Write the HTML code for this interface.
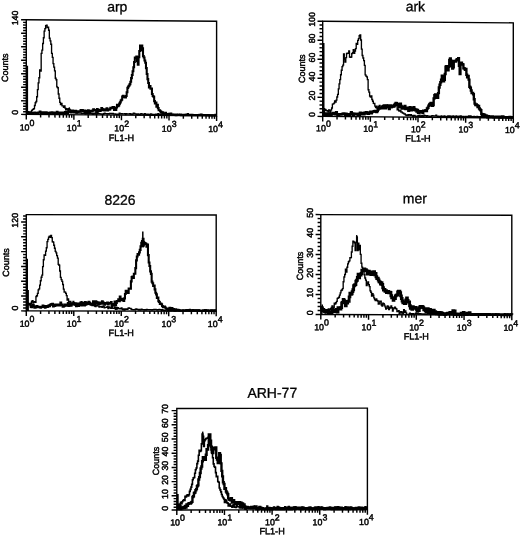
<!DOCTYPE html><html><head><meta charset="utf-8"><style>html,body{margin:0;padding:0;background:#fff;}svg{display:block;will-change:transform;}text{font-family:"Liberation Sans", sans-serif;fill:#000;stroke:#000;stroke-width:0.45px;} text.t{stroke-width:0.3px;}</style></head><body>
<svg width="520" height="536" viewBox="0 0 520 536">
<rect width="520" height="536" fill="#fff"/>
<g transform="translate(26.3 19.7) skewY(0.45) translate(-26.3 -19.7)">
<text class="t" x="117.3" y="10.8" font-size="14" text-anchor="middle">arp</text>
<rect x="26.3" y="19.7" width="190.3" height="94.7" fill="none" stroke="#000" stroke-width="1.4"/>
<path d="M21.1 114.4H26.3M23.1 111.69H26.3M23.1 108.99H26.3M23.1 106.28H26.3M23.1 103.58H26.3M21.1 100.87H26.3M23.1 98.17H26.3M23.1 95.46H26.3M23.1 92.75H26.3M23.1 90.05H26.3M21.1 87.34H26.3M23.1 84.64H26.3M23.1 81.93H26.3M23.1 79.23H26.3M23.1 76.52H26.3M21.1 73.81H26.3M23.1 71.11H26.3M23.1 68.4H26.3M23.1 65.7H26.3M23.1 62.99H26.3M21.1 60.29H26.3M23.1 57.58H26.3M23.1 54.87H26.3M23.1 52.17H26.3M23.1 49.46H26.3M21.1 46.76H26.3M23.1 44.05H26.3M23.1 41.35H26.3M23.1 38.64H26.3M23.1 35.93H26.3M21.1 33.23H26.3M23.1 30.52H26.3M23.1 27.82H26.3M23.1 25.11H26.3M23.1 22.41H26.3M21.1 19.7H26.3M26.3 114.4V119.4M40.62 114.4V117.4M49 114.4V117.4M54.94 114.4V117.4M59.55 114.4V117.4M63.32 114.4V117.4M66.51 114.4V117.4M69.26 114.4V117.4M71.7 114.4V117.4M73.88 114.4V119.4M88.2 114.4V117.4M96.57 114.4V117.4M102.52 114.4V117.4M107.13 114.4V117.4M110.9 114.4V117.4M114.08 114.4V117.4M116.84 114.4V117.4M119.27 114.4V117.4M121.45 114.4V119.4M135.77 114.4V117.4M144.15 114.4V117.4M150.09 114.4V117.4M154.7 114.4V117.4M158.47 114.4V117.4M161.66 114.4V117.4M164.41 114.4V117.4M166.85 114.4V117.4M169.03 114.4V119.4M183.35 114.4V117.4M191.72 114.4V117.4M197.67 114.4V117.4M202.28 114.4V117.4M206.05 114.4V117.4M209.23 114.4V117.4M211.99 114.4V117.4M214.42 114.4V117.4M216.6 114.4V119.4" stroke="#000" stroke-width="1.45" fill="none"/>
<text transform="translate(17.7 112.4) rotate(-90)" font-size="8.8" text-anchor="middle">0</text>
<text transform="translate(17.7 18) rotate(-90)" font-size="8.8" text-anchor="middle">140</text>
<text transform="translate(7.8 68) rotate(-90)" font-size="9" text-anchor="middle">Counts</text>
<text x="19.71" y="130.6" font-size="8.85">10<tspan dy="-4.7">0</tspan></text>
<text x="66.88" y="130.6" font-size="8.85">10<tspan dy="-4.7">1</tspan></text>
<text x="114.36" y="130.6" font-size="8.85">10<tspan dy="-4.7">2</tspan></text>
<text x="161.83" y="130.6" font-size="8.85">10<tspan dy="-4.7">3</tspan></text>
<text x="208.21" y="130.6" font-size="8.85">10<tspan dy="-4.7">4</tspan></text>
<text x="121.45" y="140.2" font-size="9.1" text-anchor="middle">FL1-H</text>
<path d="M27.3 65.7V114.4" stroke="#000" stroke-width="1.6"/>
</g>
<polyline points="28.4,113.51 28.53,113.51 28.53,113.83 29.27,113.83 29.27,113 30.02,113 30.02,111.92 30.76,111.92 30.76,111.95 31.5,111.95 31.5,110.67 32.25,110.67 32.25,109.59 32.99,109.59 32.99,109.24 33.73,109.24 33.73,108.59 34.48,108.59 34.48,105.47 35.22,105.47 35.22,102.7 35.96,102.7 35.96,101.52 36.71,101.52 36.71,96.73 37.45,96.73 37.45,89.57 38.19,89.57 38.19,82.83 38.94,82.83 38.94,77.73 39.68,77.73 39.68,70.04 40.42,70.04 40.42,71 41.17,71 41.17,53.32 41.91,53.32 41.91,50.14 42.65,50.14 42.65,43.52 43.4,43.52 43.4,37.7 44.14,37.7 44.14,31.15 44.88,31.15 44.88,28.66 45.63,28.66 45.63,25.66 46.37,25.66 46.37,25.05 47.11,25.05 47.11,27.51 47.86,27.51 47.86,27.2 48.6,27.2 48.6,30.21 49.34,30.21 49.34,38.22 50.09,38.22 50.09,40.88 50.83,40.88 50.83,44.28 51.57,44.28 51.57,53.32 52.32,53.32 52.32,57.31 53.06,57.31 53.06,63.68 53.8,63.68 53.8,67.07 54.55,67.07 54.55,70.86 55.29,70.86 55.29,78.29 56.03,78.29 56.03,79.73 56.78,79.73 56.78,86.88 57.52,86.88 57.52,87.71 58.26,87.71 58.26,93.95 59.01,93.95 59.01,98.23 59.75,98.23 59.75,102.3 60.49,102.3 60.49,104.64 61.24,104.64 61.24,103.3 61.98,103.3 61.98,105.83 62.72,105.83 62.72,105.8 63.47,105.8 63.47,107.25 64.21,107.25 64.21,105.92 64.95,105.92 64.95,108.11 65.7,108.11 65.7,109.7 66.44,109.7 66.44,108.77 67.18,108.77 67.18,109.51 67.93,109.51 67.93,111.56 68.67,111.56 68.67,108.77 69.41,108.77 69.41,109.5 70.16,109.5 70.16,110.19 70.9,110.19 70.9,110.99 71.64,110.99 71.64,111.61 72.39,111.61 72.39,110.55 73.13,110.55 73.13,111.77 73.88,111.77 73.88,110.61 74.62,110.61 74.62,111.94 75.36,111.94 75.36,112.62 76.11,112.62 76.11,112.77 76.85,112.77 76.85,112.99 77.59,112.99 77.59,112.95 78.34,112.95 78.34,113.13 79.08,113.13 79.08,113.05 79.82,113.05 79.82,112.86 80.57,112.86 80.57,112.8 81.31,112.8 81.31,113.63 82.05,113.63 82.05,113.62 82.8,113.62 82.8,113.44 83.54,113.44 83.54,113.27 84.28,113.27 84.28,113.29 85.03,113.29 85.03,114.19 85.77,114.19 85.77,112.73 86.51,112.73 86.51,113.79 87.26,113.79 87.26,112.77 88,112.77 88,114.04 88.74,114.04 88.74,113.92 89.49,113.92 89.49,113.69 90.23,113.69 90.23,113.69 90.97,113.69 90.97,113.91 91.72,113.91 91.72,113.35 92.46,113.35 92.46,114.31 93.2,114.31 93.2,113.25 93.95,113.25 93.95,113.96 94.69,113.96 94.69,113.19 95.43,113.19 95.43,113.82 96.18,113.82 96.18,114.2 96.92,114.2 96.92,113.52 97.66,113.52 97.66,112.87 98.41,112.87 98.41,113.72 99.15,113.72 99.15,113.67 99.89,113.67 99.89,113.87 100.64,113.87 100.64,114.05 101.38,114.05 101.38,114.02 102.12,114.02 102.12,114.23 102.87,114.23 102.87,114.27 103.61,114.27 103.61,113.74 104.35,113.74 104.35,113.18 105.1,113.18 105.1,113.59 105.84,113.59 105.84,113.62 106.58,113.62 106.58,113.71 107.33,113.71 107.33,114.12 108.07,114.12 108.07,113.75 108.81,113.75 108.81,113.98 109.56,113.98 109.56,113.5 110.3,113.5 110.3,113.4 111.04,113.4 111.04,113.4 111.79,113.4 111.79,113.73 112.53,113.73 112.53,113.49 113.27,113.49 113.27,114.12 114.02,114.12 114.02,113.92 114.76,113.92 114.76,113.97 115.5,113.97 115.5,114.23 116.25,114.23 116.25,114.28 116.99,114.28 116.99,114.24 117.73,114.24 117.73,114.1 118.48,114.1 118.48,114.63 119.22,114.63 119.22,113.22 119.96,113.22 119.96,113.89 120.71,113.89 120.71,113.95 121.45,113.95 121.45,113.76 122.19,113.76 122.19,114.04 122.94,114.04 122.94,113.82 123.68,113.82 123.68,113.83 124.42,113.83 124.42,113.75 125.17,113.75 125.17,114.68 125.91,114.68 125.91,113.66 126.65,113.66 126.65,113.98 127.4,113.98 127.4,113.83 128.14,113.83 128.14,113.89 128.88,113.89 128.88,113.97 129.63,113.97 129.63,113.57 130.37,113.57 130.37,114.21 131.11,114.21 131.11,113.91 131.86,113.91 131.86,114.2 132.6,114.2 132.6,114.11 133.34,114.11 133.34,113.28 134.09,113.28 134.09,113.51 134.83,113.51 134.83,114.03 135.57,114.03 135.57,113.83 136.32,113.83 136.32,114.23 137.06,114.23 137.06,114.77 137.8,114.77 137.8,113.99 138.55,113.99 138.55,114.28 139.29,114.28 139.29,114.61 140.03,114.61 140.03,114.8 140.78,114.8 140.78,113.72 141.52,113.72 141.52,114.03 142.26,114.03 142.26,114.05 143.01,114.05 143.01,114.49 143.75,114.49 143.75,114.24 144.49,114.24 144.49,113.79 145.24,113.79 145.24,114.46 145.98,114.46 145.98,114.19 146.72,114.19 146.72,114.62 147.47,114.62 147.47,114.22 148.21,114.22 148.21,114.66 148.95,114.66 148.95,114.47 149.7,114.47 149.7,114.43 150.44,114.43 150.44,114.02 151.18,114.02 151.18,114.19 151.93,114.19 151.93,114.56 152.67,114.56 152.67,114.4 153.41,114.4 153.41,114.37 154.16,114.37 154.16,114.38 154.9,114.38 154.9,114.68 155.64,114.68 155.64,114.12 156.39,114.12 156.39,114.31 157.13,114.31 157.13,114.35 157.87,114.35 157.87,113.58 158.62,113.58 158.62,114.58 159.36,114.58 159.36,114.21 160.1,114.21 160.1,114.94 160.85,114.94 160.85,113.82 161.59,113.82 161.59,114.76 162.33,114.76 162.33,114.8 163.08,114.8 163.08,114.54 163.82,114.54 163.82,114.8 164.56,114.8 164.56,114.9 165.31,114.9 165.31,114.25 166.05,114.25 166.05,114.29 166.79,114.29 166.79,114.51 167.54,114.51 167.54,114.64 168.28,114.64 168.28,114.32 169.03,114.32 169.03,114.75 169.77,114.75 169.77,114.79 170.51,114.79 170.51,114.26 171.26,114.26 171.26,114.86 172,114.86 172,114.86 172.74,114.86 172.74,114.41 173.49,114.41 173.49,114.69 174.23,114.69 174.23,114.92 174.97,114.92 174.97,114.66 175.72,114.66 175.72,114.7 176.46,114.7 176.46,114.86 177.2,114.86 177.2,114.55 177.95,114.55 177.95,114.43 178.69,114.43 178.69,114.33 179.43,114.33 179.43,115.07 180.18,115.07 180.18,114.64 180.92,114.64 180.92,114.66 181.66,114.66 181.66,115.12 182.41,115.12 182.41,114.97 183.15,114.97 183.15,114.7 183.89,114.7 183.89,115.14 184.64,115.14 184.64,114.6 185.38,114.6 185.38,114.32 186.12,114.32 186.12,115.15 186.87,115.15 186.87,114.29 187.61,114.29 187.61,113.64 188.35,113.64 188.35,114.86 189.1,114.86 189.1,114.87 189.84,114.87 189.84,114.93 190.58,114.93 190.58,115.19 191.33,115.19 191.33,115.19 192.07,115.19 192.07,114.54 192.81,114.54 192.81,114.91 193.56,114.91 193.56,114.63 194.3,114.63 194.3,114.84 195.04,114.84 195.04,114.87 195.79,114.87 195.79,114.69 196.53,114.69 196.53,115.2 197.27,115.2 197.27,114.75 198.02,114.75 198.02,114.79 198.76,114.79 198.76,115.26 199.5,115.26 199.5,115.26 200.25,115.26 200.25,115.07 200.99,115.07 200.99,114.09 201.73,114.09 201.73,114.44 202.48,114.44 202.48,114.58 203.22,114.58 203.22,115.04 203.96,115.04 203.96,114.88 204.71,114.88 204.71,115.01 205.45,115.01 205.45,114.64 206.19,114.64 206.19,114.82 206.94,114.82 206.94,115.32 207.68,115.32 207.68,114.75 208.42,114.75 208.42,114.73 209.17,114.73 209.17,115.17 209.91,115.17 209.91,115.25 210.65,115.25 210.65,114.86 211.4,114.86 211.4,115.21 212.14,115.21 212.14,114.96 212.88,114.96 212.88,115.05 213.63,115.05 213.63,115.23 214.37,115.23 214.37,115.38 215.11,115.38 215.11,114.43 215.86,114.43 215.86,115.32 216,115.32" fill="none" stroke="#000" stroke-width="1.35" stroke-linejoin="miter" stroke-miterlimit="2"/>
<polyline points="27.6,112.14 27.79,112.14 27.79,112.06 28.53,112.06 28.53,112.78 29.27,112.78 29.27,113.22 30.02,113.22 30.02,113.39 30.76,113.39 30.76,112.81 31.5,112.81 31.5,113.37 32.25,113.37 32.25,113.59 32.99,113.59 32.99,112.74 33.73,112.74 33.73,112.77 34.48,112.77 34.48,112.56 35.22,112.56 35.22,113.33 35.96,113.33 35.96,112.85 36.71,112.85 36.71,112.89 37.45,112.89 37.45,113.65 38.19,113.65 38.19,112.58 38.94,112.58 38.94,112.7 39.68,112.7 39.68,111.62 40.42,111.62 40.42,112.77 41.17,112.77 41.17,112.96 41.91,112.96 41.91,112.24 42.65,112.24 42.65,112.78 43.4,112.78 43.4,112.41 44.14,112.41 44.14,113.09 44.88,113.09 44.88,112.79 45.63,112.79 45.63,112.36 46.37,112.36 46.37,112.54 47.11,112.54 47.11,112.84 47.86,112.84 47.86,113.49 48.6,113.49 48.6,112.68 49.34,112.68 49.34,112.88 50.09,112.88 50.09,112.54 50.83,112.54 50.83,112.82 51.57,112.82 51.57,112.36 52.32,112.36 52.32,112.97 53.06,112.97 53.06,112.83 53.8,112.83 53.8,112.59 54.55,112.59 54.55,113.53 55.29,113.53 55.29,113.17 56.03,113.17 56.03,113.22 56.78,113.22 56.78,111.91 57.52,111.91 57.52,113.01 58.26,113.01 58.26,112.62 59.01,112.62 59.01,112.64 59.75,112.64 59.75,113.13 60.49,113.13 60.49,113.81 61.24,113.81 61.24,112.47 61.98,112.47 61.98,113.21 62.72,113.21 62.72,112.61 63.47,112.61 63.47,113.7 64.21,113.7 64.21,113.12 64.95,113.12 64.95,112.01 65.7,112.01 65.7,111.73 66.44,111.73 66.44,113.25 67.18,113.25 67.18,113.14 67.93,113.14 67.93,112.18 68.67,112.18 68.67,111.52 69.41,111.52 69.41,111.78 70.16,111.78 70.16,111.54 70.9,111.54 70.9,112.35 71.64,112.35 71.64,111.06 72.39,111.06 72.39,110.64 73.13,110.64 73.13,111.77 73.88,111.77 73.88,112.5 74.62,112.5 74.62,111.96 75.36,111.96 75.36,110.78 76.11,110.78 76.11,112.66 76.85,112.66 76.85,111.37 77.59,111.37 77.59,112.04 78.34,112.04 78.34,111.35 79.08,111.35 79.08,111.41 79.82,111.41 79.82,111.18 80.57,111.18 80.57,109.97 81.31,109.97 81.31,110.78 82.05,110.78 82.05,110.02 82.8,110.02 82.8,111.16 83.54,111.16 83.54,111.39 84.28,111.39 84.28,110.66 85.03,110.66 85.03,112.93 85.77,112.93 85.77,110.93 86.51,110.93 86.51,110.72 87.26,110.72 87.26,111.84 88,111.84 88,110.39 88.74,110.39 88.74,111.21 89.49,111.21 89.49,112.69 90.23,112.69 90.23,110.83 90.97,110.83 90.97,111.44 91.72,111.44 91.72,111.01 92.46,111.01 92.46,110.66 93.2,110.66 93.2,109.4 93.95,109.4 93.95,110.35 94.69,110.35 94.69,110.42 95.43,110.42 95.43,109.99 96.18,109.99 96.18,111.89 96.92,111.89 96.92,109.11 97.66,109.11 97.66,111.13 98.41,111.13 98.41,109.7 99.15,109.7 99.15,111.07 99.89,111.07 99.89,110.87 100.64,110.87 100.64,110.25 101.38,110.25 101.38,108.01 102.12,108.01 102.12,109.04 102.87,109.04 102.87,110.19 103.61,110.19 103.61,109.8 104.35,109.8 104.35,110.55 105.1,110.55 105.1,109.36 105.84,109.36 105.84,109.77 106.58,109.77 106.58,108.36 107.33,108.36 107.33,110.34 108.07,110.34 108.07,109.19 108.81,109.19 108.81,109.6 109.56,109.6 109.56,109.36 110.3,109.36 110.3,107.79 111.04,107.79 111.04,108.32 111.79,108.32 111.79,107.76 112.53,107.76 112.53,107.04 113.27,107.04 113.27,107.12 114.02,107.12 114.02,109.87 114.76,109.87 114.76,107.9 115.5,107.9 115.5,110.07 116.25,110.07 116.25,107.56 116.99,107.56 116.99,104.79 117.73,104.79 117.73,106.32 118.48,106.32 118.48,105.45 119.22,105.45 119.22,103.66 119.96,103.66 119.96,102.35 120.71,102.35 120.71,100.57 121.45,100.57 121.45,99.68 122.19,99.68 122.19,96.44 122.94,96.44 122.94,95.92 123.68,95.92 123.68,97.24 124.42,97.24 124.42,96.95 125.17,96.95 125.17,97.55 125.91,97.55 125.91,95.94 126.65,95.94 126.65,92.23 127.4,92.23 127.4,87.91 128.14,87.91 128.14,86.48 128.88,86.48 128.88,85.43 129.63,85.43 129.63,84.08 130.37,84.08 130.37,81.72 131.11,81.72 131.11,78.16 131.86,78.16 131.86,75.02 132.6,75.02 132.6,71.2 133.34,71.2 133.34,67.26 134.09,67.26 134.09,62 134.83,62 134.83,57.57 135.57,57.57 135.57,57.88 136.32,57.88 136.32,56.54 137.06,56.54 137.06,61.12 137.8,61.12 137.8,64.7 138.55,64.7 138.55,57.15 139.29,57.15 139.29,51.04 140.03,51.04 140.03,45.6 140.78,45.6 140.78,45.6 141.52,45.6 141.52,45.6 142.26,45.6 142.26,48.38 143.01,48.38 143.01,56.13 143.75,56.13 143.75,57.49 144.49,57.49 144.49,60.43 145.24,60.43 145.24,62.74 145.98,62.74 145.98,68.1 146.72,68.1 146.72,73.98 147.47,73.98 147.47,79.13 148.21,79.13 148.21,83.03 148.95,83.03 148.95,87.43 149.7,87.43 149.7,85.93 150.44,85.93 150.44,88.8 151.18,88.8 151.18,88.63 151.93,88.63 151.93,94.02 152.67,94.02 152.67,96.03 153.41,96.03 153.41,96.75 154.16,96.75 154.16,101.11 154.9,101.11 154.9,103.33 155.64,103.33 155.64,102.43 156.39,102.43 156.39,106.81 157.13,106.81 157.13,104.9 157.87,104.9 157.87,108.08 158.62,108.08 158.62,110.24 159.36,110.24 159.36,110.27 160.1,110.27 160.1,111.23 160.85,111.23 160.85,111.91 161.59,111.91 161.59,112.67 162.33,112.67 162.33,112.3 163.08,112.3 163.08,114.68 163.82,114.68 163.82,113.84 164.56,113.84 164.56,113.92 165.31,113.92 165.31,112.83 166.05,112.83 166.05,114.87 166.79,114.87 166.79,113.98 167.54,113.98 167.54,114.42 168.28,114.42 168.28,114.24 169.03,114.24 169.03,113.7 169.77,113.7 169.77,113.96 170.51,113.96 170.51,113.66 171.26,113.66 171.26,114.75 172,114.75 172,114.58 172.74,114.58 172.74,114.46 173.49,114.46 173.49,114.67 174.23,114.67 174.23,115.06 174.97,115.06 174.97,114.63 175.72,114.63 175.72,115.08 176.46,115.08 176.46,114.44 177.2,114.44 177.2,114.97 177.95,114.97 177.95,115.06 178.69,115.06 178.69,114.96 179.43,114.96 179.43,114.79 180.18,114.79 180.18,114.53 180.92,114.53 180.92,115.12 181.66,115.12 181.66,115.12 182.41,115.12 182.41,114.92 183.15,114.92 183.15,115.13 183.89,115.13 183.89,115.14 184.64,115.14 184.64,114.88 185.38,114.88 185.38,115.15 186.12,115.15 186.12,114.82 186.87,114.82 186.87,115.16 187.61,115.16 187.61,115.17 188.35,115.17 188.35,115.1 189.1,115.1 189.1,115.15 189.84,115.15 189.84,114.75 190.58,114.75 190.58,115.07 191.33,115.07 191.33,115.14 192.07,115.14 192.07,115.07 192.81,115.07 192.81,115.21 193.56,115.21 193.56,115.22 194.3,115.22 194.3,115.22 195.04,115.22 195.04,115.14 195.79,115.14 195.79,115.23 196.53,115.23 196.53,115.24 197.27,115.24 197.27,115.13 198.02,115.13 198.02,115.08 198.76,115.08 198.76,115.26 199.5,115.26 199.5,114.82 200.25,114.82 200.25,115.27 200.99,115.27 200.99,115.15 201.73,115.15 201.73,115.14 202.48,115.14 202.48,115.29 203.22,115.29 203.22,115.29 203.96,115.29 203.96,114.96 204.71,114.96 204.71,115.2 205.45,115.2 205.45,115.31 206.19,115.31 206.19,115.32 206.94,115.32 206.94,115.32 207.68,115.32 207.68,115.19 208.42,115.19 208.42,115.33 209.17,115.33 209.17,115.34 209.91,115.34 209.91,115.35 210.65,115.35 210.65,115.35 211.4,115.35 211.4,115.36 212.14,115.36 212.14,115.36 212.88,115.36 212.88,115.32 213.63,115.32 213.63,115.37 214.37,115.37 214.37,115.35 215.11,115.35 215.11,115.39 215.86,115.39 215.86,115.39 216,115.39" fill="none" stroke="#000" stroke-width="2.1" stroke-linejoin="miter" stroke-miterlimit="2"/>
<path d="M69.3 107.2V110.6" stroke="#000" stroke-width="1.2"/>
<ellipse cx="141.3" cy="48.5" rx="1.6" ry="3" fill="#000"/>
<g transform="translate(322.7 21.2) skewY(0.5) translate(-322.7 -21.2)">
<text class="t" x="415.4" y="10.4" font-size="14" text-anchor="middle">ark</text>
<rect x="322.7" y="21.2" width="190.6" height="95.2" fill="none" stroke="#000" stroke-width="1.4"/>
<path d="M317.5 116.4H322.7M319.5 112.59H322.7M319.5 108.78H322.7M319.5 104.98H322.7M319.5 101.17H322.7M317.5 97.36H322.7M319.5 93.55H322.7M319.5 89.74H322.7M319.5 85.94H322.7M319.5 82.13H322.7M317.5 78.32H322.7M319.5 74.51H322.7M319.5 70.7H322.7M319.5 66.9H322.7M319.5 63.09H322.7M317.5 59.28H322.7M319.5 55.47H322.7M319.5 51.66H322.7M319.5 47.86H322.7M319.5 44.05H322.7M317.5 40.24H322.7M319.5 36.43H322.7M319.5 32.62H322.7M319.5 28.82H322.7M319.5 25.01H322.7M317.5 21.2H322.7M322.7 116.4V121.4M337.04 116.4V119.4M345.43 116.4V119.4M351.39 116.4V119.4M356.01 116.4V119.4M359.78 116.4V119.4M362.97 116.4V119.4M365.73 116.4V119.4M368.17 116.4V119.4M370.35 116.4V121.4M384.69 116.4V119.4M393.08 116.4V119.4M399.04 116.4V119.4M403.66 116.4V119.4M407.43 116.4V119.4M410.62 116.4V119.4M413.38 116.4V119.4M415.82 116.4V119.4M418 116.4V121.4M432.34 116.4V119.4M440.73 116.4V119.4M446.69 116.4V119.4M451.31 116.4V119.4M455.08 116.4V119.4M458.27 116.4V119.4M461.03 116.4V119.4M463.47 116.4V119.4M465.65 116.4V121.4M479.99 116.4V119.4M488.38 116.4V119.4M494.34 116.4V119.4M498.96 116.4V119.4M502.73 116.4V119.4M505.92 116.4V119.4M508.68 116.4V119.4M511.12 116.4V119.4M513.3 116.4V121.4" stroke="#000" stroke-width="1.45" fill="none"/>
<text transform="translate(315.4 114.7) rotate(-90)" font-size="8.8" text-anchor="middle">0</text>
<text transform="translate(315.4 95.66) rotate(-90)" font-size="8.8" text-anchor="middle">20</text>
<text transform="translate(315.4 76.62) rotate(-90)" font-size="8.8" text-anchor="middle">40</text>
<text transform="translate(315.4 57.58) rotate(-90)" font-size="8.8" text-anchor="middle">60</text>
<text transform="translate(315.4 38.54) rotate(-90)" font-size="8.8" text-anchor="middle">80</text>
<text transform="translate(315.4 19.5) rotate(-90)" font-size="8.8" text-anchor="middle">100</text>
<text transform="translate(304.6 68.9) rotate(-90)" font-size="9" text-anchor="middle">Counts</text>
<text x="316.11" y="131.4" font-size="8.85">10<tspan dy="-4.7">0</tspan></text>
<text x="363.36" y="131.4" font-size="8.85">10<tspan dy="-4.7">1</tspan></text>
<text x="410.91" y="131.4" font-size="8.85">10<tspan dy="-4.7">2</tspan></text>
<text x="458.46" y="131.4" font-size="8.85">10<tspan dy="-4.7">3</tspan></text>
<text x="504.91" y="131.4" font-size="8.85">10<tspan dy="-4.7">4</tspan></text>
<text x="418" y="140.7" font-size="9.1" text-anchor="middle">FL1-H</text>
<path d="M323.7 43V116.4" stroke="#000" stroke-width="1.6"/>
<path d="M324.5 108V116.4" stroke="#000" stroke-width="1.4"/>
</g>
<polyline points="324.6,109.42 324.93,109.42 324.93,109.4 325.68,109.4 325.68,110.27 326.42,110.27 326.42,110.86 327.17,110.86 327.17,110.71 327.91,110.71 327.91,111.99 328.66,111.99 328.66,110 329.4,110 329.4,110.66 330.15,110.66 330.15,112.45 330.89,112.45 330.89,109.87 331.63,109.87 331.63,107.95 332.38,107.95 332.38,104.11 333.12,104.11 333.12,103.85 333.87,103.85 333.87,103.1 334.61,103.1 334.61,100.92 335.36,100.92 335.36,102.07 336.1,102.07 336.1,100.15 336.85,100.15 336.85,97.01 337.59,97.01 337.59,94.32 338.34,94.32 338.34,88.88 339.08,88.88 339.08,83.86 339.82,83.86 339.82,79.65 340.57,79.65 340.57,74.7 341.31,74.7 341.31,70.27 342.06,70.27 342.06,66.57 342.8,66.57 342.8,65.06 343.55,65.06 343.55,53.96 344.29,53.96 344.29,59.16 345.04,59.16 345.04,62 345.78,62 345.78,57.67 346.52,57.67 346.52,53.5 347.27,53.5 347.27,53.16 348.01,53.16 348.01,53.38 348.76,53.38 348.76,50.94 349.5,50.94 349.5,57.09 350.25,57.09 350.25,57.21 350.99,57.21 350.99,56.97 351.74,56.97 351.74,53.59 352.48,53.59 352.48,52.55 353.23,52.55 353.23,49.74 353.97,49.74 353.97,53.3 354.71,53.3 354.71,51.09 355.46,51.09 355.46,48.61 356.2,48.61 356.2,43.48 356.95,43.48 356.95,44.23 357.69,44.23 357.69,40.4 358.44,40.4 358.44,38.6 359.18,38.6 359.18,35.65 359.93,35.65 359.93,34.95 360.67,34.95 360.67,39.96 361.42,39.96 361.42,49.05 362.16,49.05 362.16,55.48 362.9,55.48 362.9,57.97 363.65,57.97 363.65,60.6 364.39,60.6 364.39,65.35 365.14,65.35 365.14,74.82 365.88,74.82 365.88,76.13 366.63,76.13 366.63,76.9 367.37,76.9 367.37,79.55 368.12,79.55 368.12,89.79 368.86,89.79 368.86,92.05 369.61,92.05 369.61,96.17 370.35,96.17 370.35,97.17 371.09,97.17 371.09,95.83 371.84,95.83 371.84,99.48 372.58,99.48 372.58,101.25 373.33,101.25 373.33,103.43 374.07,103.43 374.07,103.51 374.82,103.51 374.82,106.09 375.56,106.09 375.56,107.52 376.31,107.52 376.31,106.24 377.05,106.24 377.05,108.58 377.8,108.58 377.8,108.14 378.54,108.14 378.54,106.35 379.28,106.35 379.28,105.51 380.03,105.51 380.03,107.34 380.77,107.34 380.77,107.75 381.52,107.75 381.52,106.12 382.26,106.12 382.26,105.73 383.01,105.73 383.01,106.19 383.75,106.19 383.75,107.79 384.5,107.79 384.5,107.28 385.24,107.28 385.24,105.4 385.99,105.4 385.99,107.87 386.73,107.87 386.73,106.42 387.47,106.42 387.47,104.99 388.22,104.99 388.22,105.18 388.96,105.18 388.96,107.14 389.71,107.14 389.71,106.67 390.45,106.67 390.45,106.54 391.2,106.54 391.2,107.57 391.94,107.57 391.94,106.11 392.69,106.11 392.69,106.93 393.43,106.93 393.43,104.91 394.17,104.91 394.17,106.64 394.92,106.64 394.92,105.84 395.66,105.84 395.66,105.26 396.41,105.26 396.41,103.86 397.15,103.86 397.15,109.76 397.9,109.76 397.9,108.93 398.64,108.93 398.64,110.82 399.39,110.82 399.39,111.1 400.13,111.1 400.13,110.47 400.88,110.47 400.88,111.95 401.62,111.95 401.62,112.1 402.36,112.1 402.36,112.98 403.11,112.98 403.11,113.12 403.85,113.12 403.85,113.92 404.6,113.92 404.6,113.98 405.34,113.98 405.34,114.84 406.09,114.84 406.09,115.54 406.83,115.54 406.83,114.91 407.58,114.91 407.58,115.55 408.32,115.55 408.32,114.66 409.07,114.66 409.07,114.6 409.81,114.6 409.81,115.57 410.55,115.57 410.55,114.64 411.3,114.64 411.3,115.41 412.04,115.41 412.04,115.91 412.79,115.91 412.79,116.46 413.53,116.46 413.53,115.43 414.28,115.43 414.28,115.38 415.02,115.38 415.02,116.25 415.77,116.25 415.77,116.24 416.51,116.24 416.51,116.18 417.26,116.18 417.26,116.31 418,116.31 418,115.62 418.74,115.62 418.74,116.36 419.49,116.36 419.49,115.54 420.23,115.54 420.23,116.75 420.98,116.75 420.98,116.76 421.72,116.76 421.72,115.63 422.47,115.63 422.47,116.17 423.21,116.17 423.21,116.78 423.96,116.78 423.96,115.08 424.7,115.08 424.7,115.74 425.45,115.74 425.45,115.91 426.19,115.91 426.19,116.81 426.93,116.81 426.93,115.7 427.68,115.7 427.68,116.1 428.42,116.1 428.42,116.19 429.17,116.19 429.17,116.29 429.91,116.29 429.91,116.84 430.66,116.84 430.66,116.65 431.4,116.65 431.4,115.97 432.15,115.97 432.15,115.75 432.89,115.75 432.89,115.89 433.64,115.89 433.64,116.01 434.38,116.01 434.38,116.11 435.12,116.11 435.12,115.98 435.87,115.98 435.87,115.28 436.61,115.28 436.61,116.19 437.36,116.19 437.36,116.89 438.1,116.89 438.1,116.05 438.85,116.05 438.85,116.4 439.59,116.4 439.59,116.72 440.34,116.72 440.34,116.8 441.08,116.8 441.08,115.96 441.82,115.96 441.82,116.58 442.57,116.58 442.57,116.39 443.31,116.39 443.31,116.67 444.06,116.67 444.06,115.85 444.8,115.85 444.8,116.51 445.55,116.51 445.55,116.52 446.29,116.52 446.29,116.98 447.04,116.98 447.04,116.88 447.78,116.88 447.78,115.93 448.53,115.93 448.53,116.8 449.27,116.8 449.27,115.97 450.01,115.97 450.01,116.19 450.76,116.19 450.76,116.27 451.5,116.27 451.5,116.32 452.25,116.32 452.25,116.42 452.99,116.42 452.99,115.96 453.74,115.96 453.74,116.4 454.48,116.4 454.48,117.02 455.23,117.02 455.23,116.58 455.97,116.58 455.97,115.84 456.72,115.84 456.72,116.96 457.46,116.96 457.46,116.5 458.2,116.5 458.2,116.53 458.95,116.53 458.95,116.07 459.69,116.07 459.69,116.87 460.44,116.87 460.44,115.98 461.18,115.98 461.18,116.97 461.93,116.97 461.93,116.5 462.67,116.5 462.67,117.01 463.42,117.01 463.42,116.5 464.16,116.5 464.16,116.81 464.91,116.81 464.91,117.14 465.65,117.14 465.65,116.47 466.39,116.47 466.39,117 467.14,117 467.14,116.34 467.88,116.34 467.88,117.17 468.63,117.17 468.63,116.01 469.37,116.01 469.37,116.68 470.12,116.68 470.12,115.96 470.86,115.96 470.86,116.37 471.61,116.37 471.61,116.65 472.35,116.65 472.35,116.75 473.1,116.75 473.1,116.87 473.84,116.87 473.84,116.41 474.58,116.41 474.58,116.76 475.33,116.76 475.33,117.24 476.07,117.24 476.07,116.8 476.82,116.8 476.82,116.51 477.56,116.51 477.56,116.68 478.31,116.68 478.31,116.63 479.05,116.63 479.05,116.56 479.8,116.56 479.8,117.27 480.54,117.27 480.54,116.69 481.29,116.69 481.29,116.2 482.03,116.2 482.03,116.59 482.77,116.59 482.77,116.92 483.52,116.92 483.52,117.22 484.26,117.22 484.26,117.04 485.01,117.04 485.01,116.11 485.75,116.11 485.75,117 486.5,117 486.5,116.64 487.24,116.64 487.24,116.88 487.99,116.88 487.99,116.63 488.73,116.63 488.73,117.32 489.47,117.32 489.47,117.36 490.22,117.36 490.22,117.04 490.96,117.04 490.96,116.87 491.71,116.87 491.71,117.38 492.45,117.38 492.45,117.03 493.2,117.03 493.2,116.88 493.94,116.88 493.94,117.04 494.69,117.04 494.69,117.12 495.43,117.12 495.43,117.41 496.18,117.41 496.18,117.32 496.92,117.32 496.92,117.42 497.66,117.42 497.66,116.75 498.41,116.75 498.41,116.96 499.15,116.96 499.15,116.88 499.9,116.88 499.9,117.45 500.64,117.45 500.64,117.46 501.39,117.46 501.39,117.01 502.13,117.01 502.13,117.11 502.88,117.11 502.88,116.74 503.62,116.74 503.62,117.34 504.37,117.34 504.37,117.36 505.11,117.36 505.11,116.86 505.85,116.86 505.85,117.46 506.6,117.46 506.6,117.33 507.34,117.33 507.34,116.75 508.09,116.75 508.09,116.63 508.83,116.63 508.83,117.34 509.58,117.34 509.58,117.53 510.32,117.53 510.32,117.4 511.07,117.4 511.07,117.55 511.81,117.55 511.81,116.95 512.56,116.95 512.56,116.68 513,116.68" fill="none" stroke="#000" stroke-width="1.35" stroke-linejoin="miter" stroke-miterlimit="2"/>
<polyline points="324.5,115.02 324.93,115.02 324.93,113.84 325.68,113.84 325.68,113.39 326.42,113.39 326.42,114.52 327.17,114.52 327.17,115.13 327.91,115.13 327.91,114.2 328.66,114.2 328.66,113.8 329.4,113.8 329.4,113.35 330.15,113.35 330.15,115.07 330.89,115.07 330.89,115.13 331.63,115.13 331.63,113.66 332.38,113.66 332.38,113.84 333.12,113.84 333.12,113.06 333.87,113.06 333.87,113.47 334.61,113.47 334.61,114.28 335.36,114.28 335.36,114.42 336.1,114.42 336.1,112.32 336.85,112.32 336.85,114.44 337.59,114.44 337.59,114.81 338.34,114.81 338.34,115.08 339.08,115.08 339.08,114.18 339.82,114.18 339.82,114.15 340.57,114.15 340.57,114.51 341.31,114.51 341.31,114.31 342.06,114.31 342.06,114.07 342.8,114.07 342.8,113.77 343.55,113.77 343.55,113.47 344.29,113.47 344.29,114.14 345.04,114.14 345.04,115.62 345.78,115.62 345.78,113.76 346.52,113.76 346.52,115.33 347.27,115.33 347.27,114.39 348.01,114.39 348.01,115.36 348.76,115.36 348.76,114.25 349.5,114.25 349.5,114.83 350.25,114.83 350.25,114.07 350.99,114.07 350.99,112.22 351.74,112.22 351.74,114.25 352.48,114.25 352.48,113.56 353.23,113.56 353.23,115.21 353.97,115.21 353.97,114.41 354.71,114.41 354.71,113.67 355.46,113.67 355.46,114.24 356.2,114.24 356.2,113.88 356.95,113.88 356.95,114.08 357.69,114.08 357.69,114.93 358.44,114.93 358.44,113.7 359.18,113.7 359.18,114.77 359.93,114.77 359.93,112.61 360.67,112.61 360.67,114.41 361.42,114.41 361.42,113.36 362.16,113.36 362.16,113.83 362.9,113.83 362.9,112.94 363.65,112.94 363.65,114.18 364.39,114.18 364.39,112.7 365.14,112.7 365.14,113.6 365.88,113.6 365.88,112.27 366.63,112.27 366.63,112.75 367.37,112.75 367.37,113.1 368.12,113.1 368.12,113.92 368.86,113.92 368.86,112.49 369.61,112.49 369.61,112.77 370.35,112.77 370.35,111.68 371.09,111.68 371.09,113.27 371.84,113.27 371.84,111.96 372.58,111.96 372.58,111.6 373.33,111.6 373.33,111.44 374.07,111.44 374.07,111.26 374.82,111.26 374.82,111.06 375.56,111.06 375.56,111.74 376.31,111.74 376.31,112.02 377.05,112.02 377.05,111.02 377.8,111.02 377.8,109.57 378.54,109.57 378.54,108.2 379.28,108.2 379.28,108.57 380.03,108.57 380.03,108.23 380.77,108.23 380.77,108.3 381.52,108.3 381.52,108.14 382.26,108.14 382.26,108.41 383.01,108.41 383.01,107.15 383.75,107.15 383.75,105.53 384.5,105.53 384.5,107.79 385.24,107.79 385.24,108.23 385.99,108.23 385.99,105.4 386.73,105.4 386.73,107.11 387.47,107.11 387.47,106.35 388.22,106.35 388.22,106.59 388.96,106.59 388.96,109.13 389.71,109.13 389.71,105.9 390.45,105.9 390.45,105.53 391.2,105.53 391.2,106.93 391.94,106.93 391.94,105.85 392.69,105.85 392.69,106.19 393.43,106.19 393.43,106.66 394.17,106.66 394.17,104.99 394.92,104.99 394.92,103.95 395.66,103.95 395.66,102.86 396.41,102.86 396.41,103.15 397.15,103.15 397.15,104.8 397.9,104.8 397.9,104.14 398.64,104.14 398.64,107.15 399.39,107.15 399.39,104.74 400.13,104.74 400.13,103.81 400.88,103.81 400.88,106.04 401.62,106.04 401.62,108.63 402.36,108.63 402.36,108.51 403.11,108.51 403.11,107.27 403.85,107.27 403.85,107.05 404.6,107.05 404.6,105.95 405.34,105.95 405.34,109.17 406.09,109.17 406.09,108.2 406.83,108.2 406.83,107.65 407.58,107.65 407.58,108.85 408.32,108.85 408.32,110.85 409.07,110.85 409.07,108.01 409.81,108.01 409.81,107.11 410.55,107.11 410.55,108.03 411.3,108.03 411.3,110.4 412.04,110.4 412.04,109.79 412.79,109.79 412.79,109.03 413.53,109.03 413.53,107.3 414.28,107.3 414.28,109.01 415.02,109.01 415.02,110.36 415.77,110.36 415.77,109.36 416.51,109.36 416.51,111.62 417.26,111.62 417.26,109.84 418,109.84 418,112.9 418.74,112.9 418.74,112.94 419.49,112.94 419.49,111.95 420.23,111.95 420.23,111.22 420.98,111.22 420.98,112.02 421.72,112.02 421.72,111.9 422.47,111.9 422.47,113.04 423.21,113.04 423.21,110.7 423.96,110.7 423.96,110.59 424.7,110.59 424.7,110.99 425.45,110.99 425.45,110.14 426.19,110.14 426.19,110.96 426.93,110.96 426.93,108.49 427.68,108.49 427.68,107.76 428.42,107.76 428.42,105.78 429.17,105.78 429.17,104.34 429.91,104.34 429.91,103.67 430.66,103.67 430.66,102.9 431.4,102.9 431.4,105.25 432.15,105.25 432.15,105.7 432.89,105.7 432.89,104.93 433.64,104.93 433.64,98.54 434.38,98.54 434.38,95.13 435.12,95.13 435.12,94.53 435.87,94.53 435.87,95.81 436.61,95.81 436.61,97.88 437.36,97.88 437.36,97.74 438.1,97.74 438.1,93.08 438.85,93.08 438.85,87.49 439.59,87.49 439.59,84.79 440.34,84.79 440.34,82.29 441.08,82.29 441.08,79.64 441.82,79.64 441.82,75.75 442.57,75.75 442.57,77.26 443.31,77.26 443.31,81.39 444.06,81.39 444.06,79.87 444.8,79.87 444.8,73.96 445.55,73.96 445.55,66.8 446.29,66.8 446.29,66.32 447.04,66.32 447.04,67.74 447.78,67.74 447.78,70.29 448.53,70.29 448.53,66.75 449.27,66.75 449.27,60.06 450.01,60.06 450.01,58.42 450.76,58.42 450.76,60.72 451.5,60.72 451.5,65.81 452.25,65.81 452.25,68.57 452.99,68.57 452.99,67.39 453.74,67.39 453.74,60.94 454.48,60.94 454.48,61.02 455.23,61.02 455.23,61.44 455.97,61.44 455.97,60.33 456.72,60.33 456.72,59.29 457.46,59.29 457.46,59.49 458.2,59.49 458.2,58.1 458.95,58.1 458.95,65.85 459.69,65.85 459.69,74.1 460.44,74.1 460.44,64.33 461.18,64.33 461.18,62.75 461.93,62.75 461.93,64.17 462.67,64.17 462.67,64.54 463.42,64.54 463.42,68.18 464.16,68.18 464.16,68.48 464.91,68.48 464.91,69.71 465.65,69.71 465.65,68.9 466.39,68.9 466.39,74.75 467.14,74.75 467.14,77.38 467.88,77.38 467.88,75.99 468.63,75.99 468.63,79.64 469.37,79.64 469.37,86.79 470.12,86.79 470.12,87.75 470.86,87.75 470.86,90.53 471.61,90.53 471.61,93.12 472.35,93.12 472.35,92.92 473.1,92.92 473.1,94.22 473.84,94.22 473.84,99.32 474.58,99.32 474.58,103.62 475.33,103.62 475.33,105 476.07,105 476.07,104.37 476.82,104.37 476.82,105.27 477.56,105.27 477.56,107.09 478.31,107.09 478.31,105.92 479.05,105.92 479.05,108.56 479.8,108.56 479.8,109.47 480.54,109.47 480.54,110.24 481.29,110.24 481.29,113.84 482.03,113.84 482.03,115.89 482.77,115.89 482.77,114.14 483.52,114.14 483.52,115.71 484.26,115.71 484.26,114.6 485.01,114.6 485.01,115.66 485.75,115.66 485.75,115.47 486.5,115.47 486.5,115.88 487.24,115.88 487.24,117.34 487.99,117.34 487.99,116.17 488.73,116.17 488.73,116.99 489.47,116.99 489.47,117.08 490.22,117.08 490.22,116.95 490.96,116.95 490.96,116.39 491.71,116.39 491.71,116.39 492.45,116.39 492.45,116.39 493.2,116.39 493.2,117.39 493.94,117.39 493.94,117.22 494.69,117.22 494.69,117.4 495.43,117.4 495.43,117.03 496.18,117.03 496.18,116.73 496.92,116.73 496.92,117.39 497.66,117.39 497.66,116.95 498.41,116.95 498.41,116.98 499.15,116.98 499.15,116.66 499.9,116.66 499.9,117.45 500.64,117.45 500.64,117.46 501.39,117.46 501.39,117.46 502.13,117.46 502.13,116.46 502.88,116.46 502.88,116.78 503.62,116.78 503.62,117.31 504.37,117.31 504.37,117.19 505.11,117.19 505.11,117.26 505.85,117.26 505.85,117.25 506.6,117.25 506.6,117.44 507.34,117.44 507.34,117.51 508.09,117.51 508.09,117.52 508.83,117.52 508.83,117.53 509.58,117.53 509.58,116.85 510.32,116.85 510.32,117.29 511.07,117.29 511.07,117.49 511.81,117.49 511.81,117.55 512.56,117.55 512.56,117.53 513,117.53" fill="none" stroke="#000" stroke-width="2.4" stroke-linejoin="miter" stroke-miterlimit="2"/>
<g transform="translate(26.3 214.6) skewY(0.1) translate(-26.3 -214.6)">
<text class="t" x="120" y="204.5" font-size="14" text-anchor="middle">8226</text>
<rect x="26.3" y="214.6" width="189.9" height="96.3" fill="none" stroke="#000" stroke-width="1.4"/>
<path d="M21.1 310.9H26.3M23.1 307.94H26.3M23.1 304.97H26.3M23.1 302.01H26.3M23.1 299.05H26.3M21.1 296.08H26.3M23.1 293.12H26.3M23.1 290.16H26.3M23.1 287.2H26.3M23.1 284.23H26.3M21.1 281.27H26.3M23.1 278.31H26.3M23.1 275.34H26.3M23.1 272.38H26.3M23.1 269.42H26.3M21.1 266.45H26.3M23.1 263.49H26.3M23.1 260.53H26.3M23.1 257.56H26.3M23.1 254.6H26.3M21.1 251.64H26.3M23.1 248.68H26.3M23.1 245.71H26.3M23.1 242.75H26.3M23.1 239.79H26.3M21.1 236.82H26.3M23.1 233.86H26.3M23.1 230.9H26.3M23.1 227.93H26.3M23.1 224.97H26.3M21.1 222.01H26.3M23.1 219.04H26.3M23.1 216.08H26.3M26.3 310.9V315.9M40.59 310.9V313.9M48.95 310.9V313.9M54.88 310.9V313.9M59.48 310.9V313.9M63.24 310.9V313.9M66.42 310.9V313.9M69.17 310.9V313.9M71.6 310.9V313.9M73.77 310.9V315.9M88.07 310.9V313.9M96.43 310.9V313.9M102.36 310.9V313.9M106.96 310.9V313.9M110.72 310.9V313.9M113.9 310.9V313.9M116.65 310.9V313.9M119.08 310.9V313.9M121.25 310.9V315.9M135.54 310.9V313.9M143.9 310.9V313.9M149.83 310.9V313.9M154.43 310.9V313.9M158.19 310.9V313.9M161.37 310.9V313.9M164.12 310.9V313.9M166.55 310.9V313.9M168.72 310.9V315.9M183.02 310.9V313.9M191.38 310.9V313.9M197.31 310.9V313.9M201.91 310.9V313.9M205.67 310.9V313.9M208.85 310.9V313.9M211.6 310.9V313.9M214.03 310.9V313.9M216.2 310.9V315.9" stroke="#000" stroke-width="1.45" fill="none"/>
<text transform="translate(17.7 308) rotate(-90)" font-size="8.8" text-anchor="middle">0</text>
<text transform="translate(17.7 220.31) rotate(-90)" font-size="8.8" text-anchor="middle">120</text>
<text transform="translate(8.5 262.5) rotate(-90)" font-size="9" text-anchor="middle">Counts</text>
<text x="19.71" y="326.7" font-size="8.85">10<tspan dy="-4.7">0</tspan></text>
<text x="66.78" y="326.7" font-size="8.85">10<tspan dy="-4.7">1</tspan></text>
<text x="114.16" y="326.7" font-size="8.85">10<tspan dy="-4.7">2</tspan></text>
<text x="161.53" y="326.7" font-size="8.85">10<tspan dy="-4.7">3</tspan></text>
<text x="207.81" y="326.7" font-size="8.85">10<tspan dy="-4.7">4</tspan></text>
<text x="121.25" y="335.9" font-size="9.1" text-anchor="middle">FL1-H</text>
<path d="M27.2 258.8V310.9" stroke="#000" stroke-width="1.6"/>
<path d="M28.2 290V310.9" stroke="#000" stroke-width="1.4"/>
</g>
<polyline points="28.5,302.85 28.53,302.85 28.53,304.69 29.27,304.69 29.27,303.57 30.01,303.57 30.01,305.55 30.75,305.55 30.75,303.33 31.49,303.33 31.49,301.47 32.23,301.47 32.23,300.65 32.98,300.65 32.98,303.02 33.72,303.02 33.72,302.15 34.46,302.15 34.46,301.61 35.2,301.61 35.2,302.31 35.94,302.31 35.94,296.5 36.69,296.5 36.69,295.75 37.43,295.75 37.43,293.43 38.17,293.43 38.17,289.88 38.91,289.88 38.91,288.83 39.65,288.83 39.65,285.05 40.39,285.05 40.39,280.7 41.14,280.7 41.14,277.26 41.88,277.26 41.88,275.13 42.62,275.13 42.62,266.6 43.36,266.6 43.36,259.78 44.1,259.78 44.1,254.87 44.84,254.87 44.84,255.25 45.59,255.25 45.59,251.13 46.33,251.13 46.33,247.77 47.07,247.77 47.07,241.55 47.81,241.55 47.81,239.44 48.55,239.44 48.55,237.1 49.3,237.1 49.3,236.08 50.04,236.08 50.04,237.35 50.78,237.35 50.78,235.5 51.52,235.5 51.52,237.67 52.26,237.67 52.26,241.71 53,241.71 53,242.09 53.75,242.09 53.75,245.25 54.49,245.25 54.49,248.21 55.23,248.21 55.23,251.33 55.97,251.33 55.97,252.93 56.71,252.93 56.71,255.69 57.46,255.69 57.46,258.11 58.2,258.11 58.2,264.43 58.94,264.43 58.94,265.2 59.68,265.2 59.68,270.95 60.42,270.95 60.42,277.33 61.16,277.33 61.16,279.55 61.91,279.55 61.91,281.41 62.65,281.41 62.65,284.46 63.39,284.46 63.39,289.19 64.13,289.19 64.13,291.95 64.87,291.95 64.87,292.19 65.62,292.19 65.62,293.34 66.36,293.34 66.36,295.56 67.1,295.56 67.1,300.18 67.84,300.18 67.84,298.91 68.58,298.91 68.58,301.35 69.32,301.35 69.32,302 70.07,302 70.07,301.54 70.81,301.54 70.81,303.18 71.55,303.18 71.55,303.17 72.29,303.17 72.29,304.55 73.03,304.55 73.03,301.48 73.77,301.48 73.77,302.58 74.52,302.58 74.52,303.39 75.26,303.39 75.26,302.93 76,302.93 76,302.99 76.74,302.99 76.74,303.41 77.48,303.41 77.48,303.58 78.23,303.58 78.23,303.16 78.97,303.16 78.97,304.83 79.71,304.83 79.71,304.45 80.45,304.45 80.45,303.23 81.19,303.23 81.19,301.66 81.93,301.66 81.93,302.64 82.68,302.64 82.68,302.44 83.42,302.44 83.42,302.62 84.16,302.62 84.16,303.62 84.9,303.62 84.9,303.2 85.64,303.2 85.64,303.57 86.39,303.57 86.39,304.02 87.13,304.02 87.13,303.67 87.87,303.67 87.87,303.3 88.61,303.3 88.61,304.15 89.35,304.15 89.35,304.45 90.09,304.45 90.09,303.75 90.84,303.75 90.84,304.15 91.58,304.15 91.58,304.26 92.32,304.26 92.32,303.71 93.06,303.71 93.06,304.78 93.8,304.78 93.8,305.21 94.55,305.21 94.55,305.97 95.29,305.97 95.29,306.51 96.03,306.51 96.03,305.42 96.77,305.42 96.77,305.56 97.51,305.56 97.51,305.83 98.25,305.83 98.25,306.02 99,306.02 99,307.02 99.74,307.02 99.74,306.49 100.48,306.49 100.48,306.72 101.22,306.72 101.22,306.49 101.96,306.49 101.96,307.31 102.71,307.31 102.71,306.28 103.45,306.28 103.45,306.44 104.19,306.44 104.19,307.89 104.93,307.89 104.93,307.38 105.67,307.38 105.67,307.39 106.41,307.39 106.41,307.13 107.16,307.13 107.16,306.71 107.9,306.71 107.9,308.65 108.64,308.65 108.64,307.02 109.38,307.02 109.38,307.34 110.12,307.34 110.12,308.12 110.86,308.12 110.86,308.23 111.61,308.23 111.61,307.55 112.35,307.55 112.35,308.11 113.09,308.11 113.09,308.29 113.83,308.29 113.83,308.29 114.57,308.29 114.57,306.96 115.32,306.96 115.32,309.28 116.06,309.28 116.06,307.16 116.8,307.16 116.8,309.17 117.54,309.17 117.54,307.7 118.28,307.7 118.28,308.66 119.02,308.66 119.02,308.4 119.77,308.4 119.77,308.84 120.51,308.84 120.51,308.73 121.25,308.73 121.25,307.88 121.99,307.88 121.99,309.06 122.73,309.06 122.73,309.88 123.48,309.88 123.48,308.97 124.22,308.97 124.22,310.09 124.96,310.09 124.96,309.24 125.7,309.24 125.7,308.96 126.44,308.96 126.44,309.25 127.18,309.25 127.18,309.25 127.93,309.25 127.93,308.12 128.67,308.12 128.67,307.98 129.41,307.98 129.41,308.34 130.15,308.34 130.15,308.42 130.89,308.42 130.89,309.03 131.64,309.03 131.64,309.63 132.38,309.63 132.38,309.64 133.12,309.64 133.12,309.85 133.86,309.85 133.86,309.77 134.6,309.77 134.6,309.7 135.34,309.7 135.34,309.25 136.09,309.25 136.09,308.98 136.83,308.98 136.83,309.43 137.57,309.43 137.57,309.37 138.31,309.37 138.31,309.98 139.05,309.98 139.05,309.51 139.79,309.51 139.79,310.11 140.54,310.11 140.54,309.82 141.28,309.82 141.28,309.11 142.02,309.11 142.02,309.66 142.76,309.66 142.76,309.9 143.5,309.9 143.5,309.59 144.25,309.59 144.25,310.08 144.99,310.08 144.99,309.79 145.73,309.79 145.73,310.16 146.47,310.16 146.47,309.5 147.21,309.5 147.21,309.87 147.95,309.87 147.95,309.82 148.7,309.82 148.7,309.74 149.44,309.74 149.44,309.76 150.18,309.76 150.18,309.75 150.92,309.75 150.92,309.84 151.66,309.84 151.66,309.95 152.41,309.95 152.41,309.68 153.15,309.68 153.15,309.7 153.89,309.7 153.89,309.48 154.63,309.48 154.63,309.39 155.37,309.39 155.37,309.33 156.11,309.33 156.11,309.89 156.86,309.89 156.86,310.04 157.6,310.04 157.6,309.75 158.34,309.75 158.34,309.87 159.08,309.87 159.08,309.48 159.82,309.48 159.82,309.93 160.57,309.93 160.57,309.57 161.31,309.57 161.31,310.3 162.05,310.3 162.05,309.66 162.79,309.66 162.79,310.05 163.53,310.05 163.53,310.26 164.27,310.26 164.27,310.43 165.02,310.43 165.02,310.35 165.76,310.35 165.76,310.16 166.5,310.16 166.5,309.38 167.24,309.38 167.24,309.62 167.98,309.62 167.98,309.78 168.72,309.78 168.72,310.12 169.47,310.12 169.47,309.86 170.21,309.86 170.21,310.4 170.95,310.4 170.95,310.62 171.69,310.62 171.69,310.36 172.43,310.36 172.43,310 173.18,310 173.18,309.11 173.92,309.11 173.92,310.66 174.66,310.66 174.66,310.37 175.4,310.37 175.4,310.39 176.14,310.39 176.14,310.42 176.88,310.42 176.88,310.49 177.63,310.49 177.63,310.25 178.37,310.25 178.37,310.48 179.11,310.48 179.11,310.07 179.85,310.07 179.85,310.67 180.59,310.67 180.59,310.35 181.34,310.35 181.34,310.44 182.08,310.44 182.08,310.27 182.82,310.27 182.82,309.92 183.56,309.92 183.56,310.41 184.3,310.41 184.3,310.13 185.04,310.13 185.04,310.34 185.79,310.34 185.79,310.08 186.53,310.08 186.53,309.97 187.27,309.97 187.27,310.24 188.01,310.24 188.01,309.81 188.75,309.81 188.75,310.46 189.5,310.46 189.5,309.54 190.24,309.54 190.24,310.54 190.98,310.54 190.98,310.02 191.72,310.02 191.72,309.92 192.46,309.92 192.46,309.66 193.2,309.66 193.2,310.18 193.95,310.18 193.95,309.95 194.69,309.95 194.69,310.05 195.43,310.05 195.43,309.95 196.17,309.95 196.17,310.03 196.91,310.03 196.91,310.11 197.66,310.11 197.66,310.16 198.4,310.16 198.4,309.84 199.14,309.84 199.14,310.11 199.88,310.11 199.88,310.31 200.62,310.31 200.62,310.62 201.36,310.62 201.36,310.47 202.11,310.47 202.11,310.67 202.85,310.67 202.85,309.89 203.59,309.89 203.59,309.85 204.33,309.85 204.33,310.6 205.07,310.6 205.07,310.26 205.81,310.26 205.81,309.9 206.56,309.9 206.56,310.36 207.3,310.36 207.3,310.5 208.04,310.5 208.04,310.72 208.78,310.72 208.78,310.47 209.52,310.47 209.52,310.27 210.27,310.27 210.27,310.19 211.01,310.19 211.01,310.04 211.75,310.04 211.75,310.18 212.49,310.18 212.49,310 213.23,310 213.23,309.8 213.97,309.8 213.97,310.09 214.72,310.09 214.72,310.27 215.46,310.27 215.46,310.73 216,310.73" fill="none" stroke="#000" stroke-width="1.35" stroke-linejoin="miter" stroke-miterlimit="2"/>
<polyline points="29.7,303.7 30.01,303.7 30.01,304.04 30.75,304.04 30.75,306.93 31.49,306.93 31.49,307.12 32.23,307.12 32.23,306.1 32.98,306.1 32.98,304.98 33.72,304.98 33.72,306.27 34.46,306.27 34.46,307.73 35.2,307.73 35.2,307.46 35.94,307.46 35.94,306.87 36.69,306.87 36.69,306.06 37.43,306.06 37.43,306.91 38.17,306.91 38.17,307.24 38.91,307.24 38.91,307.16 39.65,307.16 39.65,306.87 40.39,306.87 40.39,307.66 41.14,307.66 41.14,307.07 41.88,307.07 41.88,306.8 42.62,306.8 42.62,305.61 43.36,305.61 43.36,306.98 44.1,306.98 44.1,306.07 44.84,306.07 44.84,307.72 45.59,307.72 45.59,306.06 46.33,306.06 46.33,306.54 47.07,306.54 47.07,306.98 47.81,306.98 47.81,306.36 48.55,306.36 48.55,305.33 49.3,305.33 49.3,306.29 50.04,306.29 50.04,304.84 50.78,304.84 50.78,304.19 51.52,304.19 51.52,303.93 52.26,303.93 52.26,303.76 53,303.76 53,306.51 53.75,306.51 53.75,304.9 54.49,304.9 54.49,306.05 55.23,306.05 55.23,304.57 55.97,304.57 55.97,305.38 56.71,305.38 56.71,304.99 57.46,304.99 57.46,304.5 58.2,304.5 58.2,305.36 58.94,305.36 58.94,304.46 59.68,304.46 59.68,305.33 60.42,305.33 60.42,302.6 61.16,302.6 61.16,305.05 61.91,305.05 61.91,304.57 62.65,304.57 62.65,306.63 63.39,306.63 63.39,306.5 64.13,306.5 64.13,306.03 64.87,306.03 64.87,304.56 65.62,304.56 65.62,304.45 66.36,304.45 66.36,304.81 67.1,304.81 67.1,305.63 67.84,305.63 67.84,302.96 68.58,302.96 68.58,305.88 69.32,305.88 69.32,305.63 70.07,305.63 70.07,304.13 70.81,304.13 70.81,305.63 71.55,305.63 71.55,304.2 72.29,304.2 72.29,303.36 73.03,303.36 73.03,304.41 73.77,304.41 73.77,303.81 74.52,303.81 74.52,304.13 75.26,304.13 75.26,304.89 76,304.89 76,306.17 76.74,306.17 76.74,305.47 77.48,305.47 77.48,304.11 78.23,304.11 78.23,305.91 78.97,305.91 78.97,304.7 79.71,304.7 79.71,303.83 80.45,303.83 80.45,302.56 81.19,302.56 81.19,305.55 81.93,305.55 81.93,304.6 82.68,304.6 82.68,303.75 83.42,303.75 83.42,303.39 84.16,303.39 84.16,305.52 84.9,305.52 84.9,301.98 85.64,301.98 85.64,304.81 86.39,304.81 86.39,302.6 87.13,302.6 87.13,304.01 87.87,304.01 87.87,303.27 88.61,303.27 88.61,301.77 89.35,301.77 89.35,302.81 90.09,302.81 90.09,303.43 90.84,303.43 90.84,304.69 91.58,304.69 91.58,304.23 92.32,304.23 92.32,305.08 93.06,305.08 93.06,301.41 93.8,301.41 93.8,305.14 94.55,305.14 94.55,305.31 95.29,305.31 95.29,301.32 96.03,301.32 96.03,301.75 96.77,301.75 96.77,303.68 97.51,303.68 97.51,302.27 98.25,302.27 98.25,304.23 99,304.23 99,303.94 99.74,303.94 99.74,302.66 100.48,302.66 100.48,302.79 101.22,302.79 101.22,303.8 101.96,303.8 101.96,301.34 102.71,301.34 102.71,302.39 103.45,302.39 103.45,303.09 104.19,303.09 104.19,304.66 104.93,304.66 104.93,303.14 105.67,303.14 105.67,303.77 106.41,303.77 106.41,303.58 107.16,303.58 107.16,302.66 107.9,302.66 107.9,304.34 108.64,304.34 108.64,303.47 109.38,303.47 109.38,302.96 110.12,302.96 110.12,303.57 110.86,303.57 110.86,302.1 111.61,302.1 111.61,306.11 112.35,306.11 112.35,304.15 113.09,304.15 113.09,305.33 113.83,305.33 113.83,303.98 114.57,303.98 114.57,301.58 115.32,301.58 115.32,304.97 116.06,304.97 116.06,302.84 116.8,302.84 116.8,301.13 117.54,301.13 117.54,301.09 118.28,301.09 118.28,299.4 119.02,299.4 119.02,301.19 119.77,301.19 119.77,296.63 120.51,296.63 120.51,299.28 121.25,299.28 121.25,300.12 121.99,300.12 121.99,298.8 122.73,298.8 122.73,299.88 123.48,299.88 123.48,300.93 124.22,300.93 124.22,298.37 124.96,298.37 124.96,293.96 125.7,293.96 125.7,290.72 126.44,290.72 126.44,291.33 127.18,291.33 127.18,292.75 127.93,292.75 127.93,292.86 128.67,292.86 128.67,288.48 129.41,288.48 129.41,288.59 130.15,288.59 130.15,288.67 130.89,288.67 130.89,281.34 131.64,281.34 131.64,277.17 132.38,277.17 132.38,276.47 133.12,276.47 133.12,278 133.86,278 133.86,273.7 134.6,273.7 134.6,273.81 135.34,273.81 135.34,268.13 136.09,268.13 136.09,260.42 136.83,260.42 136.83,256.5 137.57,256.5 137.57,254.08 138.31,254.08 138.31,254.65 139.05,254.65 139.05,252.34 139.79,252.34 139.79,249.91 140.54,249.91 140.54,246.42 141.28,246.42 141.28,242.83 142.02,242.83 142.02,241.06 142.76,241.06 142.76,238.88 143.5,238.88 143.5,242.4 144.25,242.4 144.25,243.08 144.99,243.08 144.99,243.42 145.73,243.42 145.73,243.84 146.47,243.84 146.47,246.6 147.21,246.6 147.21,244.67 147.95,244.67 147.95,255.08 148.7,255.08 148.7,262.56 149.44,262.56 149.44,265.94 150.18,265.94 150.18,271.35 150.92,271.35 150.92,273.86 151.66,273.86 151.66,281.59 152.41,281.59 152.41,283.21 153.15,283.21 153.15,285.93 153.89,285.93 153.89,285.56 154.63,285.56 154.63,289.41 155.37,289.41 155.37,292.74 156.11,292.74 156.11,294.35 156.86,294.35 156.86,298.07 157.6,298.07 157.6,297.64 158.34,297.64 158.34,301.08 159.08,301.08 159.08,301.96 159.82,301.96 159.82,303.98 160.57,303.98 160.57,303.46 161.31,303.46 161.31,304.23 162.05,304.23 162.05,305.97 162.79,305.97 162.79,307.22 163.53,307.22 163.53,306.53 164.27,306.53 164.27,306.65 165.02,306.65 165.02,307.53 165.76,307.53 165.76,308.5 166.5,308.5 166.5,308.6 167.24,308.6 167.24,308.57 167.98,308.57 167.98,310.41 168.72,310.41 168.72,309.11 169.47,309.11 169.47,307.88 170.21,307.88 170.21,309.74 170.95,309.74 170.95,309.15 171.69,309.15 171.69,308.13 172.43,308.13 172.43,309 173.18,309 173.18,309.17 173.92,309.17 173.92,309.98 174.66,309.98 174.66,310.66 175.4,310.66 175.4,309.26 176.14,309.26 176.14,310.25 176.88,310.25 176.88,310.29 177.63,310.29 177.63,309.77 178.37,309.77 178.37,310.09 179.11,310.09 179.11,310.38 179.85,310.38 179.85,310.67 180.59,310.67 180.59,310.48 181.34,310.48 181.34,310.48 182.08,310.48 182.08,310.67 182.82,310.67 182.82,310.67 183.56,310.67 183.56,310.68 184.3,310.68 184.3,310.51 185.04,310.51 185.04,310.68 185.79,310.68 185.79,310.33 186.53,310.33 186.53,310.13 187.27,310.13 187.27,310.39 188.01,310.39 188.01,310.5 188.75,310.5 188.75,309.97 189.5,309.97 189.5,310.3 190.24,310.3 190.24,310.69 190.98,310.69 190.98,310.69 191.72,310.69 191.72,310.48 192.46,310.48 192.46,310.69 193.2,310.69 193.2,310.31 193.95,310.31 193.95,310.69 194.69,310.69 194.69,310.69 195.43,310.69 195.43,310.27 196.17,310.27 196.17,310.41 196.91,310.41 196.91,310.7 197.66,310.7 197.66,310.6 198.4,310.6 198.4,310.19 199.14,310.19 199.14,310.7 199.88,310.7 199.88,310.7 200.62,310.7 200.62,310.7 201.36,310.7 201.36,310.71 202.11,310.71 202.11,310.71 202.85,310.71 202.85,310.71 203.59,310.71 203.59,310.71 204.33,310.71 204.33,310.68 205.07,310.68 205.07,310.03 205.81,310.03 205.81,310.71 206.56,310.71 206.56,310.45 207.3,310.45 207.3,310.39 208.04,310.39 208.04,310.72 208.78,310.72 208.78,310.72 209.52,310.72 209.52,310.72 210.27,310.72 210.27,310.72 211.01,310.72 211.01,310.55 211.75,310.55 211.75,310.72 212.49,310.72 212.49,310.69 213.23,310.69 213.23,310.73 213.97,310.73 213.97,310.73 214.72,310.73 214.72,310.73 215.46,310.73 215.46,310.21 216,310.21" fill="none" stroke="#000" stroke-width="2.1" stroke-linejoin="miter" stroke-miterlimit="2"/>
<path d="M142.8 231.6V241" stroke="#000" stroke-width="1.5"/>
<ellipse cx="143.2" cy="243.8" rx="1.9" ry="3.6" fill="#000"/>
<g transform="translate(320.8 214.6) skewY(0.2) translate(-320.8 -214.6)">
<text class="t" x="414.8" y="202.9" font-size="14" text-anchor="middle">mer</text>
<rect x="320.8" y="214.6" width="191" height="99.9" fill="none" stroke="#000" stroke-width="1.4"/>
<path d="M315.6 314.5H320.8M317.6 310.5H320.8M317.6 306.51H320.8M317.6 302.51H320.8M317.6 298.52H320.8M315.6 294.52H320.8M317.6 290.52H320.8M317.6 286.53H320.8M317.6 282.53H320.8M317.6 278.54H320.8M315.6 274.54H320.8M317.6 270.54H320.8M317.6 266.55H320.8M317.6 262.55H320.8M317.6 258.56H320.8M315.6 254.56H320.8M317.6 250.56H320.8M317.6 246.57H320.8M317.6 242.57H320.8M317.6 238.58H320.8M315.6 234.58H320.8M317.6 230.58H320.8M317.6 226.59H320.8M317.6 222.59H320.8M317.6 218.6H320.8M315.6 214.6H320.8M320.8 314.5V319.5M335.17 314.5V317.5M343.58 314.5V317.5M349.55 314.5V317.5M354.18 314.5V317.5M357.96 314.5V317.5M361.15 314.5V317.5M363.92 314.5V317.5M366.37 314.5V317.5M368.55 314.5V319.5M382.92 314.5V317.5M391.33 314.5V317.5M397.3 314.5V317.5M401.93 314.5V317.5M405.71 314.5V317.5M408.9 314.5V317.5M411.67 314.5V317.5M414.12 314.5V317.5M416.3 314.5V319.5M430.67 314.5V317.5M439.08 314.5V317.5M445.05 314.5V317.5M449.68 314.5V317.5M453.46 314.5V317.5M456.65 314.5V317.5M459.42 314.5V317.5M461.87 314.5V317.5M464.05 314.5V319.5M478.42 314.5V317.5M486.83 314.5V317.5M492.8 314.5V317.5M497.43 314.5V317.5M501.21 314.5V317.5M504.4 314.5V317.5M507.17 314.5V317.5M509.62 314.5V317.5M511.8 314.5V319.5" stroke="#000" stroke-width="1.45" fill="none"/>
<text transform="translate(312.9 312.8) rotate(-90)" font-size="8.8" text-anchor="middle">0</text>
<text transform="translate(312.9 292.82) rotate(-90)" font-size="8.8" text-anchor="middle">10</text>
<text transform="translate(312.9 272.84) rotate(-90)" font-size="8.8" text-anchor="middle">20</text>
<text transform="translate(312.9 252.86) rotate(-90)" font-size="8.8" text-anchor="middle">30</text>
<text transform="translate(312.9 232.88) rotate(-90)" font-size="8.8" text-anchor="middle">40</text>
<text transform="translate(312.9 212.9) rotate(-90)" font-size="8.8" text-anchor="middle">50</text>
<text transform="translate(302.6 266) rotate(-90)" font-size="9" text-anchor="middle">Counts</text>
<text x="314.21" y="330.2" font-size="8.85">10<tspan dy="-4.7">0</tspan></text>
<text x="361.56" y="330.2" font-size="8.85">10<tspan dy="-4.7">1</tspan></text>
<text x="409.21" y="330.2" font-size="8.85">10<tspan dy="-4.7">2</tspan></text>
<text x="456.86" y="330.2" font-size="8.85">10<tspan dy="-4.7">3</tspan></text>
<text x="503.41" y="330.2" font-size="8.85">10<tspan dy="-4.7">4</tspan></text>
<text x="416.3" y="339.2" font-size="9.1" text-anchor="middle">FL1-H</text>
<path d="M321.8 306V314.5" stroke="#000" stroke-width="1.4"/>
</g>
<polyline points="321.5,307.53 321.55,307.53 321.55,308 322.29,308 322.29,308 323.04,308 323.04,310.41 323.78,310.41 323.78,311.38 324.53,311.38 324.53,311.17 325.28,311.17 325.28,313.15 326.02,313.15 326.02,311.46 326.77,311.46 326.77,311.02 327.51,311.02 327.51,311.9 328.26,311.9 328.26,308.94 329.01,308.94 329.01,310.27 329.75,310.27 329.75,309.59 330.5,309.59 330.5,308.65 331.25,308.65 331.25,307.38 331.99,307.38 331.99,306 332.74,306 332.74,308.95 333.48,308.95 333.48,307.53 334.23,307.53 334.23,303.24 334.98,303.24 334.98,304.11 335.72,304.11 335.72,302.75 336.47,302.75 336.47,301.41 337.21,301.41 337.21,298.32 337.96,298.32 337.96,297.98 338.71,297.98 338.71,297.22 339.45,297.22 339.45,295.09 340.2,295.09 340.2,292.9 340.94,292.9 340.94,290.51 341.69,290.51 341.69,290.03 342.44,290.03 342.44,288.59 343.18,288.59 343.18,281.77 343.93,281.77 343.93,276.98 344.68,276.98 344.68,274.49 345.42,274.49 345.42,269.2 346.17,269.2 346.17,272.11 346.91,272.11 346.91,267.29 347.66,267.29 347.66,263.82 348.41,263.82 348.41,261.73 349.15,261.73 349.15,260.9 349.9,260.9 349.9,257.7 350.64,257.7 350.64,257.64 351.39,257.64 351.39,251.98 352.14,251.98 352.14,246.25 352.88,246.25 352.88,241.24 353.63,241.24 353.63,241.86 354.37,241.86 354.37,242.93 355.12,242.93 355.12,250.69 355.87,250.69 355.87,242.22 356.61,242.22 356.61,237.02 357.36,237.02 357.36,250.55 358.1,250.55 358.1,243.05 358.85,243.05 358.85,249.79 359.6,249.79 359.6,245.39 360.34,245.39 360.34,254.41 361.09,254.41 361.09,263.24 361.84,263.24 361.84,267.06 362.58,267.06 362.58,269.91 363.33,269.91 363.33,271.11 364.07,271.11 364.07,274.76 364.82,274.76 364.82,277.95 365.57,277.95 365.57,280.17 366.31,280.17 366.31,285.46 367.06,285.46 367.06,283.46 367.8,283.46 367.8,282.01 368.55,282.01 368.55,284.76 369.3,284.76 369.3,286.58 370.04,286.58 370.04,290.73 370.79,290.73 370.79,292.22 371.53,292.22 371.53,295.96 372.28,295.96 372.28,293.72 373.03,293.72 373.03,295.06 373.77,295.06 373.77,297.87 374.52,297.87 374.52,299.58 375.26,299.58 375.26,300.55 376.01,300.55 376.01,298.85 376.76,298.85 376.76,300.52 377.5,300.52 377.5,301.04 378.25,301.04 378.25,304.13 379,304.13 379,303.93 379.74,303.93 379.74,301.23 380.49,301.23 380.49,301.23 381.23,301.23 381.23,305.02 381.98,305.02 381.98,305.96 382.73,305.96 382.73,303.14 383.47,303.14 383.47,303.64 384.22,303.64 384.22,305.18 384.96,305.18 384.96,306.88 385.71,306.88 385.71,309.15 386.46,309.15 386.46,308.34 387.2,308.34 387.2,305.96 387.95,305.96 387.95,306.54 388.69,306.54 388.69,309.6 389.44,309.6 389.44,307.48 390.19,307.48 390.19,308.05 390.93,308.05 390.93,305.96 391.68,305.96 391.68,307.6 392.43,307.6 392.43,311.07 393.17,311.07 393.17,308.94 393.92,308.94 393.92,307.86 394.66,307.86 394.66,307.09 395.41,307.09 395.41,308.43 396.16,308.43 396.16,308.98 396.9,308.98 396.9,311.61 397.65,311.61 397.65,311.44 398.39,311.44 398.39,310.55 399.14,310.55 399.14,313.23 399.89,313.23 399.89,312.19 400.63,312.19 400.63,311.78 401.38,311.78 401.38,313.15 402.12,313.15 402.12,312.03 402.87,312.03 402.87,313.52 403.62,313.52 403.62,309.58 404.36,309.58 404.36,312.4 405.11,312.4 405.11,310.99 405.85,310.99 405.85,312.85 406.6,312.85 406.6,314.3 407.35,314.3 407.35,314.3 408.09,314.3 408.09,314.31 408.84,314.31 408.84,314.08 409.59,314.08 409.59,313.27 410.33,313.27 410.33,314.06 411.08,314.06 411.08,313.74 411.82,313.74 411.82,314.32 412.57,314.32 412.57,313.77 413.32,313.77 413.32,314.15 414.06,314.15 414.06,314 414.81,314 414.81,313.82 415.55,313.82 415.55,313.22 416.3,313.22 416.3,313.57 417.05,313.57 417.05,313.64 417.79,313.64 417.79,313.89 418.54,313.89 418.54,314.14 419.28,314.14 419.28,313.64 420.03,313.64 420.03,313.68 420.78,313.68 420.78,314.01 421.52,314.01 421.52,313.91 422.27,313.91 422.27,314.18 423.01,314.18 423.01,314.36 423.76,314.36 423.76,313.86 424.51,313.86 424.51,314.36 425.25,314.36 425.25,314.04 426,314.04 426,314.37 426.75,314.37 426.75,314.18 427.49,314.18 427.49,313.25 428.24,313.25 428.24,313.72 428.98,313.72 428.98,313.64 429.73,313.64 429.73,314.19 430.48,314.19 430.48,314.38 431.22,314.38 431.22,313.59 431.97,313.59 431.97,313.53 432.71,313.53 432.71,314.3 433.46,314.3 433.46,314.21 434.21,314.21 434.21,314.17 434.95,314.17 434.95,314.24 435.7,314.24 435.7,313.72 436.44,313.72 436.44,313.54 437.19,313.54 437.19,314.22 437.94,314.22 437.94,313.2 438.68,313.2 438.68,314.41 439.43,314.41 439.43,313.81 440.18,313.81 440.18,313.62 440.92,313.62 440.92,314.42 441.67,314.42 441.67,314.01 442.41,314.01 442.41,314.32 443.16,314.32 443.16,314.09 443.91,314.09 443.91,313.83 444.65,313.83 444.65,314.09 445.4,314.09 445.4,314.44 446.14,314.44 446.14,313.06 446.89,313.06 446.89,313.41 447.64,313.41 447.64,313.95 448.38,313.95 448.38,314.03 449.13,314.03 449.13,313.64 449.87,313.64 449.87,314.44 450.62,314.44 450.62,313.69 451.37,313.69 451.37,314.46 452.11,314.46 452.11,313.74 452.86,313.74 452.86,313.69 453.6,313.69 453.6,314.13 454.35,314.13 454.35,314.24 455.1,314.24 455.1,314.07 455.84,314.07 455.84,314.47 456.59,314.47 456.59,314.48 457.34,314.48 457.34,314.2 458.08,314.2 458.08,314.03 458.83,314.03 458.83,314.48 459.57,314.48 459.57,314.36 460.32,314.36 460.32,314.13 461.07,314.13 461.07,314.24 461.81,314.24 461.81,314.49 462.56,314.49 462.56,314.24 463.3,314.24 463.3,314.24 464.05,314.24 464.05,313.67 464.8,313.67 464.8,313.78 465.54,313.78 465.54,314.37 466.29,314.37 466.29,313.58 467.03,313.58 467.03,314.4 467.78,314.4 467.78,314.51 468.53,314.51 468.53,314.52 469.27,314.52 469.27,314.36 470.02,314.36 470.02,313.34 470.76,313.34 470.76,314.01 471.51,314.01 471.51,314.53 472.26,314.53 472.26,314.47 473,314.47 473,314.53 473.75,314.53 473.75,314.54 474.5,314.54 474.5,313.77 475.24,313.77 475.24,313.86 475.99,313.86 475.99,314.54 476.73,314.54 476.73,314.15 477.48,314.15 477.48,314.08 478.23,314.08 478.23,314.12 478.97,314.12 478.97,313.68 479.72,313.68 479.72,314.03 480.46,314.03 480.46,314.56 481.21,314.56 481.21,314.23 481.96,314.23 481.96,314.56 482.7,314.56 482.7,314.57 483.45,314.57 483.45,314.19 484.19,314.19 484.19,314.45 484.94,314.45 484.94,314.57 485.69,314.57 485.69,314.58 486.43,314.58 486.43,314.58 487.18,314.58 487.18,314.33 487.93,314.33 487.93,314.58 488.67,314.58 488.67,314.31 489.42,314.31 489.42,314.59 490.16,314.59 490.16,314.22 490.91,314.22 490.91,314.6 491.66,314.6 491.66,314.6 492.4,314.6 492.4,313.98 493.15,313.98 493.15,314.52 493.89,314.52 493.89,314.4 494.64,314.4 494.64,314.09 495.39,314.09 495.39,313.77 496.13,313.77 496.13,314.36 496.88,314.36 496.88,314.13 497.62,314.13 497.62,314.04 498.37,314.04 498.37,314 499.12,314 499.12,314.62 499.86,314.62 499.86,314.63 500.61,314.63 500.61,314.63 501.35,314.63 501.35,314.63 502.1,314.63 502.1,314.63 502.85,314.63 502.85,314.64 503.59,314.64 503.59,314.64 504.34,314.64 504.34,313.56 505.09,313.56 505.09,314.07 505.83,314.07 505.83,314.11 506.58,314.11 506.58,314.17 507.32,314.17 507.32,313.93 508.07,313.93 508.07,314.65 508.82,314.65 508.82,314.54 509.56,314.54 509.56,314.66 510.31,314.66 510.31,314.03 511.05,314.03 511.05,314.46 511.8,314.46 511.8,314.31 512,314.31" fill="none" stroke="#000" stroke-width="1.35" stroke-linejoin="miter" stroke-miterlimit="2"/>
<polyline points="321.5,305.98 321.55,305.98 321.55,307.71 322.29,307.71 322.29,311.11 323.04,311.11 323.04,309.41 323.78,309.41 323.78,311.03 324.53,311.03 324.53,311.46 325.28,311.46 325.28,311.85 326.02,311.85 326.02,310.45 326.77,310.45 326.77,311.39 327.51,311.39 327.51,311.28 328.26,311.28 328.26,312.69 329.01,312.69 329.01,312.66 329.75,312.66 329.75,313.13 330.5,313.13 330.5,311.96 331.25,311.96 331.25,313.55 331.99,313.55 331.99,309.47 332.74,309.47 332.74,311.2 333.48,311.2 333.48,311.19 334.23,311.19 334.23,310.04 334.98,310.04 334.98,311.44 335.72,311.44 335.72,310.46 336.47,310.46 336.47,309.41 337.21,309.41 337.21,312.03 337.96,312.03 337.96,307.63 338.71,307.63 338.71,308.86 339.45,308.86 339.45,307.69 340.2,307.69 340.2,309.01 340.94,309.01 340.94,307.55 341.69,307.55 341.69,302.85 342.44,302.85 342.44,302.52 343.18,302.52 343.18,299.38 343.93,299.38 343.93,300.67 344.68,300.67 344.68,301.61 345.42,301.61 345.42,305.85 346.17,305.85 346.17,302.3 346.91,302.3 346.91,303.15 347.66,303.15 347.66,301.34 348.41,301.34 348.41,301.27 349.15,301.27 349.15,296.87 349.9,296.87 349.9,293.11 350.64,293.11 350.64,294.21 351.39,294.21 351.39,293.81 352.14,293.81 352.14,291.58 352.88,291.58 352.88,289.69 353.63,289.69 353.63,285.75 354.37,285.75 354.37,284.99 355.12,284.99 355.12,284.62 355.87,284.62 355.87,281.11 356.61,281.11 356.61,280.27 357.36,280.27 357.36,277.33 358.1,277.33 358.1,274.08 358.85,274.08 358.85,277.83 359.6,277.83 359.6,274.46 360.34,274.46 360.34,275.05 361.09,275.05 361.09,273.47 361.84,273.47 361.84,270.27 362.58,270.27 362.58,270.89 363.33,270.89 363.33,269.86 364.07,269.86 364.07,268.98 364.82,268.98 364.82,269.77 365.57,269.77 365.57,269.58 366.31,269.58 366.31,270.58 367.06,270.58 367.06,273.95 367.8,273.95 367.8,273.05 368.55,273.05 368.55,271.3 369.3,271.3 369.3,272.33 370.04,272.33 370.04,272.26 370.79,272.26 370.79,274.47 371.53,274.47 371.53,272 372.28,272 372.28,272.09 373.03,272.09 373.03,274.04 373.77,274.04 373.77,271.79 374.52,271.79 374.52,274.74 375.26,274.74 375.26,273.41 376.01,273.41 376.01,276.79 376.76,276.79 376.76,278.5 377.5,278.5 377.5,278.25 378.25,278.25 378.25,279.96 379,279.96 379,281.74 379.74,281.74 379.74,282.13 380.49,282.13 380.49,284.06 381.23,284.06 381.23,282.61 381.98,282.61 381.98,284.57 382.73,284.57 382.73,287.68 383.47,287.68 383.47,290.09 384.22,290.09 384.22,289.56 384.96,289.56 384.96,291.28 385.71,291.28 385.71,290.66 386.46,290.66 386.46,292.57 387.2,292.57 387.2,292.01 387.95,292.01 387.95,291.34 388.69,291.34 388.69,292.78 389.44,292.78 389.44,292.27 390.19,292.27 390.19,292.56 390.93,292.56 390.93,295.78 391.68,295.78 391.68,297.9 392.43,297.9 392.43,297.7 393.17,297.7 393.17,300.42 393.92,300.42 393.92,297.63 394.66,297.63 394.66,298.44 395.41,298.44 395.41,295.83 396.16,295.83 396.16,295.09 396.9,295.09 396.9,294.94 397.65,294.94 397.65,292.07 398.39,292.07 398.39,291.1 399.14,291.1 399.14,291.27 399.89,291.27 399.89,292.76 400.63,292.76 400.63,295.83 401.38,295.83 401.38,298.51 402.12,298.51 402.12,301.03 402.87,301.03 402.87,302.78 403.62,302.78 403.62,302.79 404.36,302.79 404.36,303.59 405.11,303.59 405.11,303.64 405.85,303.64 405.85,299.91 406.6,299.91 406.6,298.06 407.35,298.06 407.35,300.52 408.09,300.52 408.09,302.14 408.84,302.14 408.84,301.95 409.59,301.95 409.59,305.68 410.33,305.68 410.33,308.34 411.08,308.34 411.08,307.94 411.82,307.94 411.82,309.25 412.57,309.25 412.57,306.7 413.32,306.7 413.32,308.32 414.06,308.32 414.06,308.3 414.81,308.3 414.81,307.4 415.55,307.4 415.55,307.62 416.3,307.62 416.3,309.38 417.05,309.38 417.05,311.33 417.79,311.33 417.79,309.76 418.54,309.76 418.54,310.49 419.28,310.49 419.28,307.69 420.03,307.69 420.03,306.5 420.78,306.5 420.78,307.02 421.52,307.02 421.52,306.54 422.27,306.54 422.27,306.82 423.01,306.82 423.01,307.66 423.76,307.66 423.76,309.9 424.51,309.9 424.51,308.58 425.25,308.58 425.25,310.44 426,310.44 426,311.84 426.75,311.84 426.75,310.53 427.49,310.53 427.49,308.7 428.24,308.7 428.24,311 428.98,311 428.98,312.87 429.73,312.87 429.73,309.33 430.48,309.33 430.48,310.69 431.22,310.69 431.22,310.41 431.97,310.41 431.97,312.11 432.71,312.11 432.71,311.28 433.46,311.28 433.46,310.32 434.21,310.32 434.21,313.2 434.95,313.2 434.95,311.81 435.7,311.81 435.7,312.36 436.44,312.36 436.44,313.83 437.19,313.83 437.19,312.89 437.94,312.89 437.94,312.66 438.68,312.66 438.68,314.17 439.43,314.17 439.43,312.53 440.18,312.53 440.18,314.42 440.92,314.42 440.92,312.67 441.67,312.67 441.67,313.16 442.41,313.16 442.41,313.49 443.16,313.49 443.16,314.38 443.91,314.38 443.91,314.4 444.65,314.4 444.65,314.43 445.4,314.43 445.4,313.85 446.14,313.85 446.14,313.96 446.89,313.96 446.89,313.47 447.64,313.47 447.64,313.15 448.38,313.15 448.38,313.57 449.13,313.57 449.13,313.85 449.87,313.85 449.87,312.43 450.62,312.43 450.62,313.19 451.37,313.19 451.37,313.02 452.11,313.02 452.11,313.94 452.86,313.94 452.86,310.71 453.6,310.71 453.6,312.93 454.35,312.93 454.35,311.02 455.1,311.02 455.1,314.47 455.84,314.47 455.84,314.34 456.59,314.34 456.59,313.94 457.34,313.94 457.34,314.48 458.08,314.48 458.08,314.48 458.83,314.48 458.83,314.48 459.57,314.48 459.57,314.49 460.32,314.49 460.32,314.32 461.07,314.32 461.07,313.3 461.81,313.3 461.81,313.23 462.56,313.23 462.56,313.24 463.3,313.24 463.3,312.49 464.05,312.49 464.05,314.5 464.8,314.5 464.8,314.18 465.54,314.18 465.54,314.38 466.29,314.38 466.29,314.51 467.03,314.51 467.03,313.19 467.78,313.19 467.78,314.03 468.53,314.03 468.53,314.32 469.27,314.32 469.27,312.66 470.02,312.66 470.02,314.35 470.76,314.35 470.76,314.33 471.51,314.33 471.51,314.43 472.26,314.43 472.26,314.43 473,314.43 473,314.44 473.75,314.44 473.75,314.45 474.5,314.45 474.5,314.45 475.24,314.45 475.24,314.46 475.99,314.46 475.99,314.47 476.73,314.47 476.73,314.47 477.48,314.47 477.48,314.48 478.23,314.48 478.23,314.49 478.97,314.49 478.97,314.49 479.72,314.49 479.72,314.5 480.46,314.5 480.46,314.5 481.21,314.5 481.21,314.51 481.96,314.51 481.96,314.52 482.7,314.52 482.7,314.52 483.45,314.52 483.45,314.53 484.19,314.53 484.19,314.54 484.94,314.54 484.94,314.54 485.69,314.54 485.69,314.55 486.43,314.55 486.43,314.55 487.18,314.55 487.18,314.56 487.93,314.56 487.93,314.57 488.67,314.57 488.67,314.57 489.42,314.57 489.42,314.58 490.16,314.58 490.16,314.59 490.91,314.59 490.91,314.59 491.66,314.59 491.66,314.6 492.4,314.6 492.4,314.6 493.15,314.6 493.15,314.61 493.89,314.61 493.89,314.62 494.64,314.62 494.64,314.62 495.39,314.62 495.39,314.63 496.13,314.63 496.13,314.64 496.88,314.64 496.88,314.64 497.62,314.64 497.62,314.65 498.37,314.65 498.37,314.66 499.12,314.66 499.12,314.66 499.86,314.66 499.86,314.67 500.61,314.67 500.61,314.67 501.35,314.67 501.35,314.68 502.1,314.68 502.1,314.69 502.85,314.69 502.85,314.69 503.59,314.69 503.59,314.7 504.34,314.7 504.34,314.71 505.09,314.71 505.09,314.71 505.83,314.71 505.83,314.72 506.58,314.72 506.58,314.72 507.32,314.72 507.32,314.73 508.07,314.73 508.07,314.74 508.82,314.74 508.82,314.74 509.56,314.74 509.56,314.75 510.31,314.75 510.31,314.76 511.05,314.76 511.05,314.76 511.8,314.76 511.8,314.77 512,314.77" fill="none" stroke="#000" stroke-width="2.9" stroke-linejoin="miter" stroke-miterlimit="2"/>
<path d="M356.7 235V243" stroke="#000" stroke-width="1.3"/>
<g transform="translate(176.8 408.5) skewY(-0.1) translate(-176.8 -408.5)">
<text class="t" x="272.3" y="397.8" font-size="14" text-anchor="middle">ARH-77</text>
<rect x="176.8" y="408.5" width="190.6" height="101.5" fill="none" stroke="#000" stroke-width="1.4"/>
<path d="M171.6 510H176.8M173.6 507.16H176.8M173.6 504.32H176.8M173.6 501.48H176.8M173.6 498.64H176.8M171.6 495.8H176.8M173.6 492.97H176.8M173.6 490.13H176.8M173.6 487.29H176.8M173.6 484.45H176.8M171.6 481.61H176.8M173.6 478.77H176.8M173.6 475.93H176.8M173.6 473.09H176.8M173.6 470.25H176.8M171.6 467.41H176.8M173.6 464.57H176.8M173.6 461.73H176.8M173.6 458.9H176.8M173.6 456.06H176.8M171.6 453.22H176.8M173.6 450.38H176.8M173.6 447.54H176.8M173.6 444.7H176.8M173.6 441.86H176.8M171.6 439.02H176.8M173.6 436.18H176.8M173.6 433.34H176.8M173.6 430.5H176.8M173.6 427.66H176.8M171.6 424.83H176.8M173.6 421.99H176.8M173.6 419.15H176.8M173.6 416.31H176.8M173.6 413.47H176.8M171.6 410.63H176.8M176.8 510V515M191.14 510V513M199.53 510V513M205.49 510V513M210.11 510V513M213.88 510V513M217.07 510V513M219.83 510V513M222.27 510V513M224.45 510V515M238.79 510V513M247.18 510V513M253.14 510V513M257.76 510V513M261.53 510V513M264.72 510V513M267.48 510V513M269.92 510V513M272.1 510V515M286.44 510V513M294.83 510V513M300.79 510V513M305.41 510V513M309.18 510V513M312.37 510V513M315.13 510V513M317.57 510V513M319.75 510V515M334.09 510V513M342.48 510V513M348.44 510V513M353.06 510V513M356.83 510V513M360.02 510V513M362.78 510V513M365.22 510V513M367.4 510V515" stroke="#000" stroke-width="1.45" fill="none"/>
<text transform="translate(168.3 508.3) rotate(-90)" font-size="8.8" text-anchor="middle">0</text>
<text transform="translate(168.3 494.1) rotate(-90)" font-size="8.8" text-anchor="middle">10</text>
<text transform="translate(168.3 479.91) rotate(-90)" font-size="8.8" text-anchor="middle">20</text>
<text transform="translate(168.3 465.71) rotate(-90)" font-size="8.8" text-anchor="middle">30</text>
<text transform="translate(168.3 451.52) rotate(-90)" font-size="8.8" text-anchor="middle">40</text>
<text transform="translate(168.3 437.32) rotate(-90)" font-size="8.8" text-anchor="middle">50</text>
<text transform="translate(168.3 423.13) rotate(-90)" font-size="8.8" text-anchor="middle">60</text>
<text transform="translate(168.3 408.93) rotate(-90)" font-size="8.8" text-anchor="middle">70</text>
<text transform="translate(158.9 461) rotate(-90)" font-size="9" text-anchor="middle">Counts</text>
<text x="170.21" y="525.4" font-size="8.85">10<tspan dy="-4.7">0</tspan></text>
<text x="217.46" y="525.4" font-size="8.85">10<tspan dy="-4.7">1</tspan></text>
<text x="265.01" y="525.4" font-size="8.85">10<tspan dy="-4.7">2</tspan></text>
<text x="312.56" y="525.4" font-size="8.85">10<tspan dy="-4.7">3</tspan></text>
<text x="359.01" y="525.4" font-size="8.85">10<tspan dy="-4.7">4</tspan></text>
<text x="272.1" y="534.5" font-size="9.1" text-anchor="middle">FL1-H</text>
<path d="M177.8 494V510" stroke="#000" stroke-width="1.8"/>
</g>
<polyline points="177.6,507.26 178.29,507.26 178.29,504.91 179.03,504.91 179.03,504.15 179.78,504.15 179.78,504.32 180.52,504.32 180.52,502.23 181.27,502.23 181.27,503.75 182.01,503.75 182.01,501.73 182.76,501.73 182.76,500.8 183.5,500.8 183.5,499.75 184.25,499.75 184.25,500.44 184.99,500.44 184.99,496.42 185.73,496.42 185.73,497.04 186.48,497.04 186.48,495.57 187.22,495.57 187.22,494.75 187.97,494.75 187.97,495.9 188.71,495.9 188.71,494.7 189.46,494.7 189.46,491.38 190.2,491.38 190.2,489.38 190.95,489.38 190.95,487.1 191.69,487.1 191.69,484.35 192.44,484.35 192.44,479.69 193.18,479.69 193.18,477.86 193.92,477.86 193.92,477.44 194.67,477.44 194.67,473.24 195.41,473.24 195.41,469.74 196.16,469.74 196.16,468.05 196.9,468.05 196.9,463.65 197.65,463.65 197.65,461.11 198.39,461.11 198.39,455.25 199.14,455.25 199.14,450.32 199.88,450.32 199.88,451.51 200.62,451.51 200.62,450.6 201.37,450.6 201.37,443.87 202.11,443.87 202.11,434.12 202.86,434.12 202.86,436.39 203.6,436.39 203.6,446.56 204.35,446.56 204.35,440.58 205.09,440.58 205.09,439.47 205.84,439.47 205.84,438.49 206.58,438.49 206.58,438.26 207.33,438.26 207.33,438.09 208.07,438.09 208.07,437.23 208.81,437.23 208.81,441.67 209.56,441.67 209.56,444.91 210.3,444.91 210.3,445.79 211.05,445.79 211.05,449.9 211.79,449.9 211.79,453.32 212.54,453.32 212.54,457.78 213.28,457.78 213.28,463.92 214.03,463.92 214.03,466.56 214.77,466.56 214.77,467.3 215.52,467.3 215.52,472.64 216.26,472.64 216.26,476.59 217,476.59 217,476.21 217.75,476.21 217.75,481.51 218.49,481.51 218.49,482.24 219.24,482.24 219.24,488.03 219.98,488.03 219.98,489.89 220.73,489.89 220.73,491.9 221.47,491.9 221.47,494.54 222.22,494.54 222.22,496.46 222.96,496.46 222.96,497.77 223.71,497.77 223.71,499.06 224.45,499.06 224.45,502.35 225.19,502.35 225.19,499.88 225.94,499.88 225.94,500.9 226.68,500.9 226.68,502.64 227.43,502.64 227.43,503.1 228.17,503.1 228.17,505.92 228.92,505.92 228.92,504.18 229.66,504.18 229.66,504.13 230.41,504.13 230.41,506.23 231.15,506.23 231.15,506.03 231.9,506.03 231.9,507.08 232.64,507.08 232.64,505.4 233.38,505.4 233.38,504.8 234.13,504.8 234.13,506.94 234.87,506.94 234.87,507.2 235.62,507.2 235.62,507.55 236.36,507.55 236.36,505.63 237.11,505.63 237.11,506.41 237.85,506.41 237.85,506.77 238.6,506.77 238.6,506.82 239.34,506.82 239.34,507.62 240.09,507.62 240.09,507.84 240.83,507.84 240.83,506.73 241.57,506.73 241.57,507.83 242.32,507.83 242.32,507.09 243.06,507.09 243.06,507.21 243.81,507.21 243.81,505.86 244.55,505.86 244.55,507.17 245.3,507.17 245.3,509.15 246.04,509.15 246.04,506.9 246.79,506.9 246.79,507.25 247.53,507.25 247.53,507 248.28,507 248.28,507.94 249.02,507.94 249.02,507.28 249.76,507.28 249.76,508.08 250.51,508.08 250.51,508.36 251.25,508.36 251.25,506.86 252,506.86 252,508.35 252.74,508.35 252.74,507.2 253.49,507.2 253.49,506.25 254.23,506.25 254.23,507.34 254.98,507.34 254.98,508.07 255.72,508.07 255.72,508.07 256.46,508.07 256.46,508.71 257.21,508.71 257.21,507.61 257.95,507.61 257.95,507.66 258.7,507.66 258.7,507.88 259.44,507.88 259.44,507.04 260.19,507.04 260.19,508.26 260.93,508.26 260.93,507.23 261.68,507.23 261.68,507.69 262.42,507.69 262.42,507.91 263.17,507.91 263.17,508.18 263.91,508.18 263.91,508.59 264.65,508.59 264.65,508.31 265.4,508.31 265.4,507.99 266.14,507.99 266.14,507.93 266.89,507.93 266.89,506.13 267.63,506.13 267.63,507.65 268.38,507.65 268.38,507.64 269.12,507.64 269.12,507.49 269.87,507.49 269.87,507.97 270.61,507.97 270.61,507.91 271.36,507.91 271.36,507.98 272.1,507.98 272.1,508.99 272.84,508.99 272.84,508.33 273.59,508.33 273.59,507.08 274.33,507.08 274.33,508.87 275.08,508.87 275.08,507.75 275.82,507.75 275.82,507.78 276.57,507.78 276.57,507.71 277.31,507.71 277.31,506.57 278.06,506.57 278.06,506.99 278.8,506.99 278.8,507.34 279.55,507.34 279.55,507.9 280.29,507.9 280.29,507.92 281.03,507.92 281.03,508.34 281.78,508.34 281.78,508.4 282.52,508.4 282.52,508.24 283.27,508.24 283.27,509.22 284.01,509.22 284.01,508.4 284.76,508.4 284.76,506.77 285.5,506.77 285.5,508.96 286.25,508.96 286.25,507.49 286.99,507.49 286.99,508.52 287.74,508.52 287.74,507.47 288.48,507.47 288.48,506.67 289.22,506.67 289.22,508.08 289.97,508.08 289.97,508.15 290.71,508.15 290.71,508.03 291.46,508.03 291.46,507.72 292.2,507.72 292.2,507.6 292.95,507.6 292.95,509.3 293.69,509.3 293.69,506.93 294.44,506.93 294.44,507.8 295.18,507.8 295.18,506.74 295.92,506.74 295.92,508.71 296.67,508.71 296.67,507.9 297.41,507.9 297.41,508.19 298.16,508.19 298.16,508.42 298.9,508.42 298.9,508.09 299.65,508.09 299.65,508.41 300.39,508.41 300.39,508.16 301.14,508.16 301.14,507.64 301.88,507.64 301.88,507 302.63,507 302.63,507.6 303.37,507.6 303.37,507.62 304.11,507.62 304.11,508.65 304.86,508.65 304.86,508.6 305.6,508.6 305.6,507.68 306.35,507.68 306.35,507.69 307.09,507.69 307.09,508.12 307.84,508.12 307.84,507.73 308.58,507.73 308.58,507.35 309.33,507.35 309.33,508.05 310.07,508.05 310.07,507.11 310.82,507.11 310.82,507.8 311.56,507.8 311.56,508.54 312.3,508.54 312.3,508.03 313.05,508.03 313.05,508.09 313.79,508.09 313.79,507.98 314.54,507.98 314.54,507.38 315.28,507.38 315.28,507.12 316.03,507.12 316.03,507.17 316.77,507.17 316.77,507.71 317.52,507.71 317.52,507.78 318.26,507.78 318.26,506.76 319.01,506.76 319.01,508.74 319.75,508.74 319.75,507.99 320.49,507.99 320.49,508.09 321.24,508.09 321.24,507.13 321.98,507.13 321.98,508.59 322.73,508.59 322.73,507.73 323.47,507.73 323.47,508.46 324.22,508.46 324.22,508.34 324.96,508.34 324.96,507.83 325.71,507.83 325.71,508.54 326.45,508.54 326.45,507.83 327.2,507.83 327.2,507.66 327.94,507.66 327.94,507.77 328.68,507.77 328.68,507.82 329.43,507.82 329.43,507 330.17,507 330.17,507.35 330.92,507.35 330.92,508.19 331.66,508.19 331.66,508.31 332.41,508.31 332.41,507.61 333.15,507.61 333.15,508.28 333.9,508.28 333.9,508.68 334.64,508.68 334.64,507.29 335.39,507.29 335.39,507.65 336.13,507.65 336.13,507.22 336.87,507.22 336.87,508.18 337.62,508.18 337.62,506.91 338.36,506.91 338.36,507.54 339.11,507.54 339.11,507.26 339.85,507.26 339.85,508.06 340.6,508.06 340.6,508.84 341.34,508.84 341.34,507.23 342.09,507.23 342.09,508.06 342.83,508.06 342.83,508.25 343.57,508.25 343.57,508.06 344.32,508.06 344.32,508.36 345.06,508.36 345.06,506.9 345.81,506.9 345.81,507.26 346.55,507.26 346.55,508.08 347.3,508.08 347.3,507.1 348.04,507.1 348.04,507.26 348.79,507.26 348.79,507.43 349.53,507.43 349.53,507.61 350.28,507.61 350.28,507.01 351.02,507.01 351.02,507.55 351.76,507.55 351.76,507.83 352.51,507.83 352.51,508.2 353.25,508.2 353.25,507.95 354,507.95 354,508.43 354.74,508.43 354.74,508.61 355.49,508.61 355.49,507.51 356.23,507.51 356.23,508.69 356.98,508.69 356.98,507.89 357.72,507.89 357.72,508.2 358.47,508.2 358.47,507.21 359.21,507.21 359.21,507.53 359.95,507.53 359.95,508.15 360.7,508.15 360.7,508.35 361.44,508.35 361.44,507.79 362.19,507.79 362.19,508.1 362.93,508.1 362.93,507.5 363.68,507.5 363.68,507.64 364.42,507.64 364.42,508.54 365.17,508.54 365.17,506.73 365.91,506.73 365.91,507.58 366.66,507.58 366.66,508.24 367,508.24" fill="none" stroke="#000" stroke-width="1.6" stroke-linejoin="miter" stroke-miterlimit="2"/>
<polyline points="177.6,508.47 178.29,508.47 178.29,507.67 179.03,507.67 179.03,507.1 179.78,507.1 179.78,506.24 180.52,506.24 180.52,508.96 181.27,508.96 181.27,508.29 182.01,508.29 182.01,508.29 182.76,508.29 182.76,507.47 183.5,507.47 183.5,507.04 184.25,507.04 184.25,508.05 184.99,508.05 184.99,505.85 185.73,505.85 185.73,507.44 186.48,507.44 186.48,504.55 187.22,504.55 187.22,505.86 187.97,505.86 187.97,503.87 188.71,503.87 188.71,503.18 189.46,503.18 189.46,503.35 190.2,503.35 190.2,503.43 190.95,503.43 190.95,502.55 191.69,502.55 191.69,501.85 192.44,501.85 192.44,497.04 193.18,497.04 193.18,496.3 193.92,496.3 193.92,493.07 194.67,493.07 194.67,492.5 195.41,492.5 195.41,490.31 196.16,490.31 196.16,489.09 196.9,489.09 196.9,486.18 197.65,486.18 197.65,485.21 198.39,485.21 198.39,479.55 199.14,479.55 199.14,477.17 199.88,477.17 199.88,472.98 200.62,472.98 200.62,468.55 201.37,468.55 201.37,466.57 202.11,466.57 202.11,461.31 202.86,461.31 202.86,457.09 203.6,457.09 203.6,457.12 204.35,457.12 204.35,459.36 205.09,459.36 205.09,459.68 205.84,459.68 205.84,454.7 206.58,454.7 206.58,449.13 207.33,449.13 207.33,449.56 208.07,449.56 208.07,445.21 208.81,445.21 208.81,434.4 209.56,434.4 209.56,434.4 210.3,434.4 210.3,440.67 211.05,440.67 211.05,446.75 211.79,446.75 211.79,452.29 212.54,452.29 212.54,452.96 213.28,452.96 213.28,449.21 214.03,449.21 214.03,447.76 214.77,447.76 214.77,448.63 215.52,448.63 215.52,447.4 216.26,447.4 216.26,457.78 217,457.78 217,459.56 217.75,459.56 217.75,462.95 218.49,462.95 218.49,458.98 219.24,458.98 219.24,453.31 219.98,453.31 219.98,454.99 220.73,454.99 220.73,463.4 221.47,463.4 221.47,470.83 222.22,470.83 222.22,476.41 222.96,476.41 222.96,482.22 223.71,482.22 223.71,483.93 224.45,483.93 224.45,488.75 225.19,488.75 225.19,488.3 225.94,488.3 225.94,491.53 226.68,491.53 226.68,492.76 227.43,492.76 227.43,494.19 228.17,494.19 228.17,498.36 228.92,498.36 228.92,499.64 229.66,499.64 229.66,499.7 230.41,499.7 230.41,500.25 231.15,500.25 231.15,498.24 231.9,498.24 231.9,502.58 232.64,502.58 232.64,501.07 233.38,501.07 233.38,500.24 234.13,500.24 234.13,502.09 234.87,502.09 234.87,504.07 235.62,504.07 235.62,503.76 236.36,503.76 236.36,502.31 237.11,502.31 237.11,502.32 237.85,502.32 237.85,503.7 238.6,503.7 238.6,503.32 239.34,503.32 239.34,502.23 240.09,502.23 240.09,504.71 240.83,504.71 240.83,502.66 241.57,502.66 241.57,506.3 242.32,506.3 242.32,503.43 243.06,503.43 243.06,507.63 243.81,507.63 243.81,504.54 244.55,504.54 244.55,506.52 245.3,506.52 245.3,508.56 246.04,508.56 246.04,507.11 246.79,507.11 246.79,507.06 247.53,507.06 247.53,507.2 248.28,507.2 248.28,507.69 249.02,507.69 249.02,508 249.76,508 249.76,508.17 250.51,508.17 250.51,507.87 251.25,507.87 251.25,506.97 252,506.97 252,507.67 252.74,507.67 252.74,507.54 253.49,507.54 253.49,508.02 254.23,508.02 254.23,507.1 254.98,507.1 254.98,506.37 255.72,506.37 255.72,506.56 256.46,506.56 256.46,509.28 257.21,509.28 257.21,509.03 257.95,509.03 257.95,509.19 258.7,509.19 258.7,508.69 259.44,508.69 259.44,506.98 260.19,506.98 260.19,508.75 260.93,508.75 260.93,508.43 261.68,508.43 261.68,508.68 262.42,508.68 262.42,509.35 263.17,509.35 263.17,509.35 263.91,509.35 263.91,509.13 264.65,509.13 264.65,509.24 265.4,509.24 265.4,508.91 266.14,508.91 266.14,509.02 266.89,509.02 266.89,508.89 267.63,508.89 267.63,509.34 268.38,509.34 268.38,508.13 269.12,508.13 269.12,508.51 269.87,508.51 269.87,509.3 270.61,509.3 270.61,509.15 271.36,509.15 271.36,509.33 272.1,509.33 272.1,509.33 272.84,509.33 272.84,508.41 273.59,508.41 273.59,509.12 274.33,509.12 274.33,508.16 275.08,508.16 275.08,507.88 275.82,507.88 275.82,509.33 276.57,509.33 276.57,509.33 277.31,509.33 277.31,508.51 278.06,508.51 278.06,509.18 278.8,509.18 278.8,509.26 279.55,509.26 279.55,509.09 280.29,509.09 280.29,508.56 281.03,508.56 281.03,509.32 281.78,509.32 281.78,508.78 282.52,508.78 282.52,508.13 283.27,508.13 283.27,509.19 284.01,509.19 284.01,509.07 284.76,509.07 284.76,508.55 285.5,508.55 285.5,508.22 286.25,508.22 286.25,508.2 286.99,508.2 286.99,508.52 287.74,508.52 287.74,507.8 288.48,507.8 288.48,509.23 289.22,509.23 289.22,507.78 289.97,507.78 289.97,508.45 290.71,508.45 290.71,509.02 291.46,509.02 291.46,509.3 292.2,509.3 292.2,507.84 292.95,507.84 292.95,508.65 293.69,508.65 293.69,508.46 294.44,508.46 294.44,507.82 295.18,507.82 295.18,509.07 295.92,509.07 295.92,508.31 296.67,508.31 296.67,508.26 297.41,508.26 297.41,507.77 298.16,507.77 298.16,508.61 298.9,508.61 298.9,507.64 299.65,507.64 299.65,509.15 300.39,509.15 300.39,508.84 301.14,508.84 301.14,509.22 301.88,509.22 301.88,509.28 302.63,509.28 302.63,507.74 303.37,507.74 303.37,508.63 304.11,508.63 304.11,508.83 304.86,508.83 304.86,508.68 305.6,508.68 305.6,508.71 306.35,508.71 306.35,509.27 307.09,509.27 307.09,509.09 307.84,509.09 307.84,508.56 308.58,508.56 308.58,509.27 309.33,509.27 309.33,508.94 310.07,508.94 310.07,509.06 310.82,509.06 310.82,509.27 311.56,509.27 311.56,509.26 312.3,509.26 312.3,509.19 313.05,509.19 313.05,508.67 313.79,508.67 313.79,508.46 314.54,508.46 314.54,509.26 315.28,509.26 315.28,508.71 316.03,508.71 316.03,508.43 316.77,508.43 316.77,509.26 317.52,509.26 317.52,509.25 318.26,509.25 318.26,508.46 319.01,508.46 319.01,508.35 319.75,508.35 319.75,508.45 320.49,508.45 320.49,507.8 321.24,507.8 321.24,508.35 321.98,508.35 321.98,507.94 322.73,507.94 322.73,508.8 323.47,508.8 323.47,508.79 324.22,508.79 324.22,509.24 324.96,509.24 324.96,508.73 325.71,508.73 325.71,509.03 326.45,509.03 326.45,509.17 327.2,509.17 327.2,508.41 327.94,508.41 327.94,508.56 328.68,508.56 328.68,509.06 329.43,509.06 329.43,508.66 330.17,508.66 330.17,508.58 330.92,508.58 330.92,508.52 331.66,508.52 331.66,509.21 332.41,509.21 332.41,508.38 333.15,508.38 333.15,509.08 333.9,509.08 333.9,508.59 334.64,508.59 334.64,509.11 335.39,509.11 335.39,507.52 336.13,507.52 336.13,509.22 336.87,509.22 336.87,508.15 337.62,508.15 337.62,509.22 338.36,509.22 338.36,507.78 339.11,507.78 339.11,509.22 339.85,509.22 339.85,508.34 340.6,508.34 340.6,508.89 341.34,508.89 341.34,508.2 342.09,508.2 342.09,509.21 342.83,509.21 342.83,508.98 343.57,508.98 343.57,508.5 344.32,508.5 344.32,508.26 345.06,508.26 345.06,509.16 345.81,509.16 345.81,509.2 346.55,509.2 346.55,509.01 347.3,509.01 347.3,509.2 348.04,509.2 348.04,508.74 348.79,508.74 348.79,509.06 349.53,509.06 349.53,509.2 350.28,509.2 350.28,508.9 351.02,508.9 351.02,507.91 351.76,507.91 351.76,508.43 352.51,508.43 352.51,509.02 353.25,509.02 353.25,508.41 354,508.41 354,509.19 354.74,509.19 354.74,509.15 355.49,509.15 355.49,508.83 356.23,508.83 356.23,509.01 356.98,509.01 356.98,509.17 357.72,509.17 357.72,508.78 358.47,508.78 358.47,507.66 359.21,507.66 359.21,508.81 359.95,508.81 359.95,508.52 360.7,508.52 360.7,507.73 361.44,507.73 361.44,509.18 362.19,509.18 362.19,508.97 362.93,508.97 362.93,508.23 363.68,508.23 363.68,509.17 364.42,509.17 364.42,509.03 365.17,509.03 365.17,507.95 365.91,507.95 365.91,508.71 366.66,508.71 366.66,508.63 367,508.63" fill="none" stroke="#000" stroke-width="2.4" stroke-linejoin="miter" stroke-miterlimit="2"/>
<path d="M202.7 431.6V441" stroke="#000" stroke-width="1.5"/>
<path d="M219.6 452.5V462" stroke="#000" stroke-width="2"/>
</svg></body></html>
